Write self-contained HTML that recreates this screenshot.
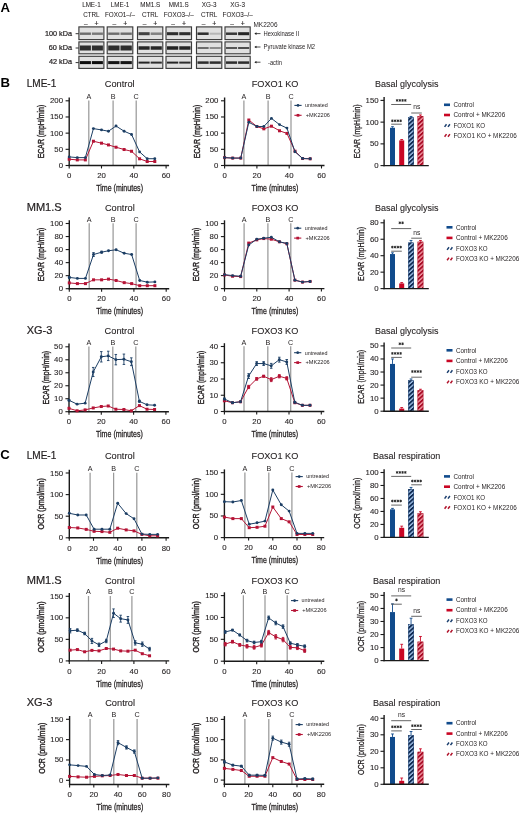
<!DOCTYPE html>
<html><head><meta charset="utf-8"><title>Figure</title>
<style>
html,body{margin:0;padding:0;background:#fff;}
body{width:520px;height:813px;overflow:hidden;font-family:"Liberation Sans",sans-serif;}
svg{display:block;will-change:transform;filter:blur(0.3px);}
</style></head><body>
<svg width="520" height="813" viewBox="0 0 520 813" font-family="Liberation Sans, sans-serif" fill="#231f20"><defs>
<filter id="blur" x="-20%" y="-60%" width="140%" height="220%"><feGaussianBlur stdDeviation="0.75"/></filter>
<pattern id="hb" patternUnits="userSpaceOnUse" width="3.2" height="3.2" patternTransform="rotate(-42)">
<rect width="3.2" height="3.2" fill="#a4c6ee"/><rect width="3.2" height="1.85" fill="#0d2850"/></pattern>
<pattern id="hr" patternUnits="userSpaceOnUse" width="3.2" height="3.2" patternTransform="rotate(-42)">
<rect width="3.2" height="3.2" fill="#f5a0aa"/><rect width="3.2" height="1.85" fill="#a80a24"/></pattern>
</defs><text x="0.4" y="11.5" font-size="13.2" font-weight="bold" fill="#000">A</text>
<text x="91.4" y="7.2" font-size="6.3" text-anchor="middle" stroke="#231f20" stroke-width="0.05">LME-1</text>
<text x="91.4" y="17" font-size="6.3" text-anchor="middle" stroke="#231f20" stroke-width="0.05">CTRL</text>
<text x="85.8" y="25.6" font-size="6.6" text-anchor="middle" stroke="#231f20" stroke-width="0.15">–</text>
<text x="96.6" y="25.6" font-size="6.9" text-anchor="middle" stroke="#231f20" stroke-width="0.15">+</text>
<rect x="78.9" y="26.9" width="25" height="12.7" fill="#e0e0e0" stroke="#3c3c3c" stroke-width="1.15"/>
<rect x="79.9" y="32.5" width="11" height="2.4" fill="rgb(108,108,108)" filter="url(#blur)"/>
<rect x="91.9" y="32.5" width="11" height="2.4" fill="rgb(119,119,119)" filter="url(#blur)"/>
<rect x="78.9" y="41.9" width="25" height="11.9" fill="#e0e0e0" stroke="#3c3c3c" stroke-width="1.15"/>
<rect x="79.9" y="45.5" width="11" height="5" fill="rgb(45,45,45)" filter="url(#blur)"/>
<rect x="91.9" y="45.5" width="11" height="5" fill="rgb(45,45,45)" filter="url(#blur)"/>
<rect x="78.9" y="56.3" width="25" height="12.1" fill="#e0e0e0" stroke="#3c3c3c" stroke-width="1.15"/>
<rect x="79.9" y="61.1" width="11" height="3" fill="rgb(14,14,14)" filter="url(#blur)"/>
<rect x="91.9" y="61.1" width="11" height="3" fill="rgb(14,14,14)" filter="url(#blur)"/>
<text x="120" y="7.2" font-size="6.3" text-anchor="middle" stroke="#231f20" stroke-width="0.05">LME-1</text>
<text x="120" y="17" font-size="6.3" text-anchor="middle" stroke="#231f20" stroke-width="0.05">FOXO1–/–</text>
<text x="114.4" y="25.6" font-size="6.6" text-anchor="middle" stroke="#231f20" stroke-width="0.15">–</text>
<text x="125.2" y="25.6" font-size="6.9" text-anchor="middle" stroke="#231f20" stroke-width="0.15">+</text>
<rect x="107.2" y="26.9" width="25.6" height="12.7" fill="#e0e0e0" stroke="#3c3c3c" stroke-width="1.15"/>
<rect x="108.2" y="32.5" width="11.3" height="2.4" fill="rgb(108,108,108)" filter="url(#blur)"/>
<rect x="120.5" y="32.5" width="11.3" height="2.4" fill="rgb(108,108,108)" filter="url(#blur)"/>
<rect x="107.2" y="41.9" width="25.6" height="11.9" fill="#e0e0e0" stroke="#3c3c3c" stroke-width="1.15"/>
<rect x="108.2" y="45.5" width="11.3" height="5" fill="rgb(45,45,45)" filter="url(#blur)"/>
<rect x="120.5" y="45.5" width="11.3" height="5" fill="rgb(45,45,45)" filter="url(#blur)"/>
<rect x="107.2" y="56.3" width="25.6" height="12.1" fill="#e0e0e0" stroke="#3c3c3c" stroke-width="1.15"/>
<rect x="108.2" y="61.1" width="11.3" height="3" fill="rgb(20,20,20)" filter="url(#blur)"/>
<rect x="120.5" y="61.1" width="11.3" height="3" fill="rgb(20,20,20)" filter="url(#blur)"/>
<text x="150.15" y="7.2" font-size="6.3" text-anchor="middle" stroke="#231f20" stroke-width="0.05">MM1.S</text>
<text x="150.15" y="17" font-size="6.3" text-anchor="middle" stroke="#231f20" stroke-width="0.05">CTRL</text>
<text x="144.55" y="25.6" font-size="6.6" text-anchor="middle" stroke="#231f20" stroke-width="0.15">–</text>
<text x="155.35" y="25.6" font-size="6.9" text-anchor="middle" stroke="#231f20" stroke-width="0.15">+</text>
<rect x="137.5" y="26.9" width="25.3" height="12.7" fill="#e0e0e0" stroke="#3c3c3c" stroke-width="1.15"/>
<rect x="138.5" y="32.2" width="11.15" height="3" fill="rgb(66,66,66)" filter="url(#blur)"/>
<rect x="150.65" y="32.45" width="11.15" height="2.5" fill="rgb(129,129,129)" filter="url(#blur)"/>
<rect x="137.5" y="41.9" width="25.3" height="11.9" fill="#e0e0e0" stroke="#3c3c3c" stroke-width="1.15"/>
<rect x="138.5" y="46.25" width="11.15" height="3.5" fill="rgb(39,39,39)" filter="url(#blur)"/>
<rect x="150.65" y="46.25" width="11.15" height="3.5" fill="rgb(39,39,39)" filter="url(#blur)"/>
<rect x="137.5" y="56.3" width="25.3" height="12.1" fill="#e0e0e0" stroke="#3c3c3c" stroke-width="1.15"/>
<rect x="138.5" y="61.6" width="11.15" height="2" fill="rgb(39,39,39)" filter="url(#blur)"/>
<rect x="150.65" y="61.6" width="11.15" height="2" fill="rgb(45,45,45)" filter="url(#blur)"/>
<text x="178.75" y="7.2" font-size="6.3" text-anchor="middle" stroke="#231f20" stroke-width="0.05">MM1.S</text>
<text x="178.75" y="17" font-size="6.3" text-anchor="middle" stroke="#231f20" stroke-width="0.05">FOXO3–/–</text>
<text x="173.15" y="25.6" font-size="6.6" text-anchor="middle" stroke="#231f20" stroke-width="0.15">–</text>
<text x="183.95" y="25.6" font-size="6.9" text-anchor="middle" stroke="#231f20" stroke-width="0.15">+</text>
<rect x="166" y="26.9" width="25.5" height="12.7" fill="#e0e0e0" stroke="#3c3c3c" stroke-width="1.15"/>
<rect x="167" y="32.2" width="11.25" height="3" fill="rgb(45,45,45)" filter="url(#blur)"/>
<rect x="179.25" y="32.2" width="11.25" height="3" fill="rgb(45,45,45)" filter="url(#blur)"/>
<rect x="166" y="41.9" width="25.5" height="11.9" fill="#e0e0e0" stroke="#3c3c3c" stroke-width="1.15"/>
<rect x="167" y="46.25" width="11.25" height="3.5" fill="rgb(35,35,35)" filter="url(#blur)"/>
<rect x="179.25" y="46.25" width="11.25" height="3.5" fill="rgb(39,39,39)" filter="url(#blur)"/>
<rect x="166" y="56.3" width="25.5" height="12.1" fill="#e0e0e0" stroke="#3c3c3c" stroke-width="1.15"/>
<rect x="167" y="61.6" width="11.25" height="2" fill="rgb(39,39,39)" filter="url(#blur)"/>
<rect x="179.25" y="61.6" width="11.25" height="2" fill="rgb(45,45,45)" filter="url(#blur)"/>
<text x="209.15" y="7.2" font-size="6.3" text-anchor="middle" stroke="#231f20" stroke-width="0.05">XG-3</text>
<text x="209.15" y="17" font-size="6.3" text-anchor="middle" stroke="#231f20" stroke-width="0.05">CTRL</text>
<text x="203.55" y="25.6" font-size="6.6" text-anchor="middle" stroke="#231f20" stroke-width="0.15">–</text>
<text x="214.35" y="25.6" font-size="6.9" text-anchor="middle" stroke="#231f20" stroke-width="0.15">+</text>
<rect x="196.5" y="26.9" width="25.3" height="12.7" fill="#e0e0e0" stroke="#3c3c3c" stroke-width="1.15"/>
<rect x="197.5" y="32.45" width="11.15" height="2.5" fill="rgb(45,45,45)" filter="url(#blur)"/>
<rect x="209.65" y="32.7" width="11.15" height="2" fill="rgb(182,182,182)" filter="url(#blur)"/>
<rect x="196.5" y="41.9" width="25.3" height="11.9" fill="#e0e0e0" stroke="#3c3c3c" stroke-width="1.15"/>
<rect x="197.5" y="47" width="11.15" height="2" fill="rgb(108,108,108)" filter="url(#blur)"/>
<rect x="209.65" y="47" width="11.15" height="2" fill="rgb(140,140,140)" filter="url(#blur)"/>
<rect x="196.5" y="56.3" width="25.3" height="12.1" fill="#e0e0e0" stroke="#3c3c3c" stroke-width="1.15"/>
<rect x="197.5" y="61.35" width="11.15" height="2.5" fill="rgb(45,45,45)" filter="url(#blur)"/>
<rect x="209.65" y="61.35" width="11.15" height="2.5" fill="rgb(45,45,45)" filter="url(#blur)"/>
<text x="237.6" y="7.2" font-size="6.3" text-anchor="middle" stroke="#231f20" stroke-width="0.05">XG-3</text>
<text x="237.6" y="17" font-size="6.3" text-anchor="middle" stroke="#231f20" stroke-width="0.05">FOXO3–/–</text>
<text x="232" y="25.6" font-size="6.6" text-anchor="middle" stroke="#231f20" stroke-width="0.15">–</text>
<text x="242.8" y="25.6" font-size="6.9" text-anchor="middle" stroke="#231f20" stroke-width="0.15">+</text>
<rect x="225" y="26.9" width="25.2" height="12.7" fill="#e0e0e0" stroke="#3c3c3c" stroke-width="1.15"/>
<rect x="226" y="32.45" width="11.1" height="2.5" fill="rgb(56,56,56)" filter="url(#blur)"/>
<rect x="238.1" y="32.2" width="11.1" height="3" fill="rgb(39,39,39)" filter="url(#blur)"/>
<rect x="225" y="41.9" width="25.2" height="11.9" fill="#e0e0e0" stroke="#3c3c3c" stroke-width="1.15"/>
<rect x="226" y="47" width="11.1" height="2" fill="rgb(87,87,87)" filter="url(#blur)"/>
<rect x="238.1" y="47" width="11.1" height="2" fill="rgb(77,77,77)" filter="url(#blur)"/>
<rect x="225" y="56.3" width="25.2" height="12.1" fill="#e0e0e0" stroke="#3c3c3c" stroke-width="1.15"/>
<rect x="226" y="61.35" width="11.1" height="2.5" fill="rgb(45,45,45)" filter="url(#blur)"/>
<rect x="238.1" y="61.35" width="11.1" height="2.5" fill="rgb(45,45,45)" filter="url(#blur)"/>
<text x="253.5" y="27" font-size="6.5" textLength="24" lengthAdjust="spacingAndGlyphs">MK2206</text>
<text x="72" y="35.7" font-size="6.4" text-anchor="end" textLength="27" lengthAdjust="spacingAndGlyphs" stroke="#231f20" stroke-width="0.2">100 kDa</text>
<text x="72" y="49.9" font-size="6.4" text-anchor="end" textLength="23.2" lengthAdjust="spacingAndGlyphs" stroke="#231f20" stroke-width="0.2">60 kDa</text>
<text x="72" y="64.3" font-size="6.4" text-anchor="end" textLength="23" lengthAdjust="spacingAndGlyphs" stroke="#231f20" stroke-width="0.2">42 kDa</text>
<line x1="75.6" y1="33.7" x2="78.8" y2="33.7" stroke="#333" stroke-width="1"/>
<line x1="75.6" y1="48" x2="78.8" y2="48" stroke="#333" stroke-width="1"/>
<line x1="75.6" y1="62.6" x2="78.8" y2="62.6" stroke="#333" stroke-width="1"/>
<line x1="255" y1="33.6" x2="260.5" y2="33.6" stroke="#222" stroke-width="0.8"/>
<path d="M254.3 33.6 l2.2 -1.3 v2.6z" fill="#222"/>
<text x="263.6" y="36" font-size="6.8" textLength="35.5" lengthAdjust="spacingAndGlyphs">Hexokinase II</text>
<line x1="255" y1="47" x2="260.5" y2="47" stroke="#222" stroke-width="0.8"/>
<path d="M254.3 47 l2.2 -1.3 v2.6z" fill="#222"/>
<text x="263.6" y="49.4" font-size="6.8" textLength="51.5" lengthAdjust="spacingAndGlyphs">Pyruvate kinase M2</text>
<line x1="255" y1="62.2" x2="260.5" y2="62.2" stroke="#222" stroke-width="0.8"/>
<path d="M254.3 62.2 l2.2 -1.3 v2.6z" fill="#222"/>
<text x="268" y="64.6" font-size="6.8" textLength="14" lengthAdjust="spacingAndGlyphs">-actin</text>
<text x="0.5" y="87" font-size="13.2" font-weight="bold" fill="#000">B</text>
<text x="0.3" y="459" font-size="13.2" font-weight="bold" fill="#000">C</text>
<text x="26.7" y="86.7" font-size="10.2" textLength="29.6" lengthAdjust="spacingAndGlyphs" stroke="#231f20" stroke-width="0.2">LME-1</text>
<text x="26.7" y="211.2" font-size="10.2" textLength="35" lengthAdjust="spacingAndGlyphs" stroke="#231f20" stroke-width="0.2">MM1.S</text>
<text x="26.7" y="334.2" font-size="10.2" textLength="25.6" lengthAdjust="spacingAndGlyphs" stroke="#231f20" stroke-width="0.2">XG-3</text>
<text x="26.7" y="459.4" font-size="10.2" textLength="29.6" lengthAdjust="spacingAndGlyphs" stroke="#231f20" stroke-width="0.2">LME-1</text>
<text x="26.7" y="583.6" font-size="10.2" textLength="35" lengthAdjust="spacingAndGlyphs" stroke="#231f20" stroke-width="0.2">MM1.S</text>
<text x="26.7" y="706.4" font-size="10.2" textLength="25.6" lengthAdjust="spacingAndGlyphs" stroke="#231f20" stroke-width="0.2">XG-3</text>
<line x1="88.8" y1="100.5" x2="88.8" y2="165.5" stroke="#9a9a9a" stroke-width="1.25"/>
<text x="88.8" y="98.8" font-size="7.2" text-anchor="middle">A</text>
<line x1="113.1" y1="100.5" x2="113.1" y2="165.5" stroke="#9a9a9a" stroke-width="1.25"/>
<text x="113.1" y="98.8" font-size="7.2" text-anchor="middle">B</text>
<line x1="136.2" y1="100.5" x2="136.2" y2="165.5" stroke="#9a9a9a" stroke-width="1.25"/>
<text x="136.2" y="98.8" font-size="7.2" text-anchor="middle">C</text>
<line x1="69.2" y1="97.5" x2="69.2" y2="166.1" stroke="#1a1a1a" stroke-width="1.4"/>
<line x1="68.5" y1="165.5" x2="169.1" y2="165.5" stroke="#1a1a1a" stroke-width="1.4"/>
<line x1="65.6" y1="165.5" x2="69.2" y2="165.5" stroke="#1a1a1a" stroke-width="1.1"/>
<text x="63" y="168" font-size="7.4" text-anchor="end" textLength="4.35" lengthAdjust="spacingAndGlyphs" stroke="#231f20" stroke-width="0.1">0</text>
<line x1="65.6" y1="149.32" x2="69.2" y2="149.32" stroke="#1a1a1a" stroke-width="1.1"/>
<text x="63" y="151.82" font-size="7.4" text-anchor="end" textLength="8.7" lengthAdjust="spacingAndGlyphs" stroke="#231f20" stroke-width="0.1">50</text>
<line x1="65.6" y1="133.15" x2="69.2" y2="133.15" stroke="#1a1a1a" stroke-width="1.1"/>
<text x="63" y="135.65" font-size="7.4" text-anchor="end" textLength="13.05" lengthAdjust="spacingAndGlyphs" stroke="#231f20" stroke-width="0.1">100</text>
<line x1="65.6" y1="116.97" x2="69.2" y2="116.97" stroke="#1a1a1a" stroke-width="1.1"/>
<text x="63" y="119.47" font-size="7.4" text-anchor="end" textLength="13.05" lengthAdjust="spacingAndGlyphs" stroke="#231f20" stroke-width="0.1">150</text>
<line x1="65.6" y1="100.8" x2="69.2" y2="100.8" stroke="#1a1a1a" stroke-width="1.1"/>
<text x="63" y="103.3" font-size="7.4" text-anchor="end" textLength="13.05" lengthAdjust="spacingAndGlyphs" stroke="#231f20" stroke-width="0.1">200</text>
<line x1="69.2" y1="165.5" x2="69.2" y2="168.5" stroke="#1a1a1a" stroke-width="1.1"/>
<text x="69.2" y="178.2" font-size="7.4" text-anchor="middle" textLength="4.35" lengthAdjust="spacingAndGlyphs" stroke="#231f20" stroke-width="0.1">0</text>
<line x1="101.5" y1="165.5" x2="101.5" y2="168.5" stroke="#1a1a1a" stroke-width="1.1"/>
<text x="101.5" y="178.2" font-size="7.4" text-anchor="middle" textLength="8.7" lengthAdjust="spacingAndGlyphs" stroke="#231f20" stroke-width="0.1">20</text>
<line x1="133.8" y1="165.5" x2="133.8" y2="168.5" stroke="#1a1a1a" stroke-width="1.1"/>
<text x="133.8" y="178.2" font-size="7.4" text-anchor="middle" textLength="8.7" lengthAdjust="spacingAndGlyphs" stroke="#231f20" stroke-width="0.1">40</text>
<line x1="166.1" y1="165.5" x2="166.1" y2="168.5" stroke="#1a1a1a" stroke-width="1.1"/>
<text x="166.1" y="178.2" font-size="7.4" text-anchor="middle" textLength="8.7" lengthAdjust="spacingAndGlyphs" stroke="#231f20" stroke-width="0.1">60</text>
<text x="119.6" y="191.2" font-size="9.3" text-anchor="middle" textLength="46.8" lengthAdjust="spacingAndGlyphs" stroke="#231f20" stroke-width="0.3">Time (minutes)</text>
<text transform="translate(44.1 131.55) rotate(-90)" font-size="9.6" text-anchor="middle" textLength="53.6" lengthAdjust="spacingAndGlyphs" stroke="#231f20" stroke-width="0.4">ECAR (mpH/min)</text>
<text x="119.7" y="87.2" font-size="9.6" text-anchor="middle" textLength="29.8" lengthAdjust="spacingAndGlyphs" stroke="#231f20" stroke-width="0.1">Control</text>
<polyline points="69.2,159.22 77.28,159.9 85.35,159.9 93.43,141.24 101.5,143.18 108.44,144.93 116.03,147.22 124.11,149.52 131.54,151.27 139.61,158.8 147.2,161.52 154.8,161.52" fill="none" stroke="#b51335" stroke-width="1.0" stroke-linejoin="round"/>
<rect x="67.7" y="157.72" width="3" height="3" fill="#b51335"/>
<rect x="75.78" y="158.4" width="3" height="3" fill="#b51335"/>
<rect x="83.85" y="158.4" width="3" height="3" fill="#b51335"/>
<rect x="91.93" y="139.74" width="3" height="3" fill="#b51335"/>
<rect x="100" y="141.68" width="3" height="3" fill="#b51335"/>
<rect x="106.94" y="143.43" width="3" height="3" fill="#b51335"/>
<rect x="114.53" y="145.72" width="3" height="3" fill="#b51335"/>
<rect x="122.61" y="148.02" width="3" height="3" fill="#b51335"/>
<rect x="130.04" y="149.77" width="3" height="3" fill="#b51335"/>
<rect x="138.11" y="157.3" width="3" height="3" fill="#b51335"/>
<rect x="145.7" y="160.02" width="3" height="3" fill="#b51335"/>
<rect x="153.3" y="160.02" width="3" height="3" fill="#b51335"/>
<polyline points="69.2,156.89 77.28,157.61 85.35,157.61 93.43,128.62 101.5,129.91 108.44,131.21 116.03,126.03 124.11,131.21 131.54,134.44 139.61,151.91 147.2,158.71 154.8,158.71" fill="none" stroke="#1c3e64" stroke-width="1.0" stroke-linejoin="round"/>
<circle cx="69.2" cy="156.89" r="1.45" fill="#1c3e64"/>
<circle cx="77.28" cy="157.61" r="1.45" fill="#1c3e64"/>
<circle cx="85.35" cy="157.61" r="1.45" fill="#1c3e64"/>
<circle cx="93.43" cy="128.62" r="1.45" fill="#1c3e64"/>
<circle cx="101.5" cy="129.91" r="1.45" fill="#1c3e64"/>
<circle cx="108.44" cy="131.21" r="1.45" fill="#1c3e64"/>
<circle cx="116.03" cy="126.03" r="1.45" fill="#1c3e64"/>
<circle cx="124.11" cy="131.21" r="1.45" fill="#1c3e64"/>
<circle cx="131.54" cy="134.44" r="1.45" fill="#1c3e64"/>
<circle cx="139.61" cy="151.91" r="1.45" fill="#1c3e64"/>
<circle cx="147.2" cy="158.71" r="1.45" fill="#1c3e64"/>
<circle cx="154.8" cy="158.71" r="1.45" fill="#1c3e64"/>
<line x1="243.9" y1="100.5" x2="243.9" y2="165.5" stroke="#9a9a9a" stroke-width="1.25"/>
<text x="243.9" y="98.8" font-size="7.2" text-anchor="middle">A</text>
<line x1="268.1" y1="100.5" x2="268.1" y2="165.5" stroke="#9a9a9a" stroke-width="1.25"/>
<text x="268.1" y="98.8" font-size="7.2" text-anchor="middle">B</text>
<line x1="291" y1="100.5" x2="291" y2="165.5" stroke="#9a9a9a" stroke-width="1.25"/>
<text x="291" y="98.8" font-size="7.2" text-anchor="middle">C</text>
<line x1="224.6" y1="97.5" x2="224.6" y2="166.1" stroke="#1a1a1a" stroke-width="1.4"/>
<line x1="223.9" y1="165.5" x2="324.5" y2="165.5" stroke="#1a1a1a" stroke-width="1.4"/>
<line x1="221" y1="165.5" x2="224.6" y2="165.5" stroke="#1a1a1a" stroke-width="1.1"/>
<text x="218.4" y="168" font-size="7.4" text-anchor="end" textLength="4.35" lengthAdjust="spacingAndGlyphs" stroke="#231f20" stroke-width="0.1">0</text>
<line x1="221" y1="149.32" x2="224.6" y2="149.32" stroke="#1a1a1a" stroke-width="1.1"/>
<text x="218.4" y="151.82" font-size="7.4" text-anchor="end" textLength="8.7" lengthAdjust="spacingAndGlyphs" stroke="#231f20" stroke-width="0.1">50</text>
<line x1="221" y1="133.15" x2="224.6" y2="133.15" stroke="#1a1a1a" stroke-width="1.1"/>
<text x="218.4" y="135.65" font-size="7.4" text-anchor="end" textLength="13.05" lengthAdjust="spacingAndGlyphs" stroke="#231f20" stroke-width="0.1">100</text>
<line x1="221" y1="116.97" x2="224.6" y2="116.97" stroke="#1a1a1a" stroke-width="1.1"/>
<text x="218.4" y="119.47" font-size="7.4" text-anchor="end" textLength="13.05" lengthAdjust="spacingAndGlyphs" stroke="#231f20" stroke-width="0.1">150</text>
<line x1="221" y1="100.8" x2="224.6" y2="100.8" stroke="#1a1a1a" stroke-width="1.1"/>
<text x="218.4" y="103.3" font-size="7.4" text-anchor="end" textLength="13.05" lengthAdjust="spacingAndGlyphs" stroke="#231f20" stroke-width="0.1">200</text>
<line x1="224.6" y1="165.5" x2="224.6" y2="168.5" stroke="#1a1a1a" stroke-width="1.1"/>
<text x="224.6" y="178.2" font-size="7.4" text-anchor="middle" textLength="4.35" lengthAdjust="spacingAndGlyphs" stroke="#231f20" stroke-width="0.1">0</text>
<line x1="256.9" y1="165.5" x2="256.9" y2="168.5" stroke="#1a1a1a" stroke-width="1.1"/>
<text x="256.9" y="178.2" font-size="7.4" text-anchor="middle" textLength="8.7" lengthAdjust="spacingAndGlyphs" stroke="#231f20" stroke-width="0.1">20</text>
<line x1="289.2" y1="165.5" x2="289.2" y2="168.5" stroke="#1a1a1a" stroke-width="1.1"/>
<text x="289.2" y="178.2" font-size="7.4" text-anchor="middle" textLength="8.7" lengthAdjust="spacingAndGlyphs" stroke="#231f20" stroke-width="0.1">40</text>
<line x1="321.5" y1="165.5" x2="321.5" y2="168.5" stroke="#1a1a1a" stroke-width="1.1"/>
<text x="321.5" y="178.2" font-size="7.4" text-anchor="middle" textLength="8.7" lengthAdjust="spacingAndGlyphs" stroke="#231f20" stroke-width="0.1">60</text>
<text x="275" y="191.2" font-size="9.3" text-anchor="middle" textLength="46.8" lengthAdjust="spacingAndGlyphs" stroke="#231f20" stroke-width="0.3">Time (minutes)</text>
<text transform="translate(199.5 131.55) rotate(-90)" font-size="9.6" text-anchor="middle" textLength="53.6" lengthAdjust="spacingAndGlyphs" stroke="#231f20" stroke-width="0.4">ECAR (mpH/min)</text>
<text x="275.1" y="87.2" font-size="9.6" text-anchor="middle" textLength="46.7" lengthAdjust="spacingAndGlyphs" stroke="#231f20" stroke-width="0.1">FOXO1 KO</text>
<polyline points="224.6,157.61 232.67,158.09 240.75,158.09 248.82,120.02 256.9,126.49 263.84,128.82 271.44,126.19 279.51,130.79 286.94,133.41 295.01,151.2 302.6,158.51 310.19,158.8" fill="none" stroke="#b51335" stroke-width="1.0" stroke-linejoin="round"/>
<rect x="223.1" y="156.11" width="3" height="3" fill="#b51335"/>
<rect x="231.17" y="156.59" width="3" height="3" fill="#b51335"/>
<rect x="239.25" y="156.59" width="3" height="3" fill="#b51335"/>
<rect x="247.32" y="118.52" width="3" height="3" fill="#b51335"/>
<rect x="255.4" y="124.99" width="3" height="3" fill="#b51335"/>
<rect x="262.34" y="127.32" width="3" height="3" fill="#b51335"/>
<rect x="269.94" y="124.69" width="3" height="3" fill="#b51335"/>
<rect x="278.01" y="129.29" width="3" height="3" fill="#b51335"/>
<rect x="285.44" y="131.91" width="3" height="3" fill="#b51335"/>
<rect x="293.51" y="149.7" width="3" height="3" fill="#b51335"/>
<rect x="301.1" y="157.01" width="3" height="3" fill="#b51335"/>
<rect x="308.69" y="157.3" width="3" height="3" fill="#b51335"/>
<polyline points="224.6,157.61 232.67,158.09 240.75,158.09 248.82,122.28 256.9,126.49 263.84,126.49 271.44,118.4 279.51,124.61 286.94,128.1 295.01,151.82 302.6,158.51 310.19,158.8" fill="none" stroke="#1c3e64" stroke-width="1.0" stroke-linejoin="round"/>
<circle cx="224.6" cy="157.61" r="1.45" fill="#1c3e64"/>
<circle cx="232.67" cy="158.09" r="1.45" fill="#1c3e64"/>
<circle cx="240.75" cy="158.09" r="1.45" fill="#1c3e64"/>
<circle cx="248.82" cy="122.28" r="1.45" fill="#1c3e64"/>
<circle cx="256.9" cy="126.49" r="1.45" fill="#1c3e64"/>
<circle cx="263.84" cy="126.49" r="1.45" fill="#1c3e64"/>
<circle cx="271.44" cy="118.4" r="1.45" fill="#1c3e64"/>
<circle cx="279.51" cy="124.61" r="1.45" fill="#1c3e64"/>
<circle cx="286.94" cy="128.1" r="1.45" fill="#1c3e64"/>
<circle cx="295.01" cy="151.82" r="1.45" fill="#1c3e64"/>
<circle cx="302.6" cy="158.51" r="1.45" fill="#1c3e64"/>
<circle cx="310.19" cy="158.8" r="1.45" fill="#1c3e64"/>
<line x1="294.4" y1="105.4" x2="301.6" y2="105.4" stroke="#1c3e64" stroke-width="1.1"/>
<circle cx="298" cy="105.4" r="1.35" fill="#1c3e64"/>
<text x="305" y="107.2" font-size="5.2" textLength="22.8" lengthAdjust="spacingAndGlyphs">untreated</text>
<line x1="294.4" y1="115.3" x2="301.6" y2="115.3" stroke="#b51335" stroke-width="1.1"/>
<rect x="296.65" y="113.95" width="2.7" height="2.7" fill="#b51335"/>
<text x="305.7" y="117.1" font-size="5.2" textLength="24.3" lengthAdjust="spacingAndGlyphs">+MK2206</text>
<line x1="392.5" y1="126.7" x2="392.5" y2="127.78" stroke="#114b8c" stroke-width="0.9"/>
<line x1="391.1" y1="126.7" x2="393.9" y2="126.7" stroke="#114b8c" stroke-width="0.9"/>
<rect x="390" y="127.78" width="5" height="37.82" fill="#114b8c"/>
<line x1="401.7" y1="139.52" x2="401.7" y2="140.39" stroke="#c90624" stroke-width="0.9"/>
<line x1="400.3" y1="139.52" x2="403.1" y2="139.52" stroke="#c90624" stroke-width="0.9"/>
<rect x="399.2" y="140.39" width="5" height="25.21" fill="#c90624"/>
<line x1="411.05" y1="116.48" x2="411.05" y2="117.35" stroke="#114b8c" stroke-width="0.9"/>
<line x1="409.65" y1="116.48" x2="412.45" y2="116.48" stroke="#114b8c" stroke-width="0.9"/>
<rect x="408.2" y="117.35" width="5.7" height="48.25" fill="url(#hb)"/>
<rect x="408.45" y="117.6" width="5.2" height="47.75" fill="none" stroke="#1b3f6e" stroke-width="0.5"/>
<line x1="420.45" y1="114.96" x2="420.45" y2="116.05" stroke="#c90624" stroke-width="0.9"/>
<line x1="419.05" y1="114.96" x2="421.85" y2="114.96" stroke="#c90624" stroke-width="0.9"/>
<rect x="417.6" y="116.05" width="5.7" height="49.55" fill="url(#hr)"/>
<rect x="417.85" y="116.3" width="5.2" height="49.05" fill="none" stroke="#b0122a" stroke-width="0.5"/>
<line x1="384.1" y1="97.1" x2="384.1" y2="166.2" stroke="#1a1a1a" stroke-width="1.4"/>
<line x1="383.4" y1="165.6" x2="428.8" y2="165.6" stroke="#1a1a1a" stroke-width="1.4"/>
<line x1="380.5" y1="165.6" x2="384.1" y2="165.6" stroke="#1a1a1a" stroke-width="1.1"/>
<text x="378.6" y="168.1" font-size="7.4" text-anchor="end" textLength="4.35" lengthAdjust="spacingAndGlyphs" stroke="#231f20" stroke-width="0.1">0</text>
<line x1="380.5" y1="143.87" x2="384.1" y2="143.87" stroke="#1a1a1a" stroke-width="1.1"/>
<text x="378.6" y="146.37" font-size="7.4" text-anchor="end" textLength="8.7" lengthAdjust="spacingAndGlyphs" stroke="#231f20" stroke-width="0.1">50</text>
<line x1="380.5" y1="122.13" x2="384.1" y2="122.13" stroke="#1a1a1a" stroke-width="1.1"/>
<text x="378.6" y="124.63" font-size="7.4" text-anchor="end" textLength="13.05" lengthAdjust="spacingAndGlyphs" stroke="#231f20" stroke-width="0.1">100</text>
<line x1="380.5" y1="100.4" x2="384.1" y2="100.4" stroke="#1a1a1a" stroke-width="1.1"/>
<text x="378.6" y="102.9" font-size="7.4" text-anchor="end" textLength="13.05" lengthAdjust="spacingAndGlyphs" stroke="#231f20" stroke-width="0.1">150</text>
<text transform="translate(360.2 131.3) rotate(-90)" font-size="9.8" text-anchor="middle" textLength="54" lengthAdjust="spacingAndGlyphs" stroke="#231f20" stroke-width="0.3">ECAR (mpH/min)</text>
<text x="406.7" y="87.3" font-size="9.3" text-anchor="middle" textLength="63.4" lengthAdjust="spacingAndGlyphs" stroke="#231f20" stroke-width="0.1">Basal glycolysis</text>
<line x1="391.2" y1="104.5" x2="411.2" y2="104.5" stroke="#555" stroke-width="0.9"/>
<path d="M397.07 99.1L397.07 101.7M395.95 99.75L398.2 101.05M395.95 101.05L398.2 99.75" stroke="#2a2a2a" stroke-width="0.95"/>
<path d="M399.82 99.1L399.82 101.7M398.7 99.75L400.95 101.05M398.7 101.05L400.95 99.75" stroke="#2a2a2a" stroke-width="0.95"/>
<path d="M402.57 99.1L402.57 101.7M401.45 99.75L403.7 101.05M401.45 101.05L403.7 99.75" stroke="#2a2a2a" stroke-width="0.95"/>
<path d="M405.32 99.1L405.32 101.7M404.2 99.75L406.45 101.05M404.2 101.05L406.45 99.75" stroke="#2a2a2a" stroke-width="0.95"/>
<line x1="391.2" y1="124.2" x2="401.8" y2="124.2" stroke="#555" stroke-width="0.9"/>
<path d="M392.38 119.5L392.38 122.1M391.25 120.15L393.5 121.45M391.25 121.45L393.5 120.15" stroke="#2a2a2a" stroke-width="0.95"/>
<path d="M395.12 119.5L395.12 122.1M394 120.15L396.25 121.45M394 121.45L396.25 120.15" stroke="#2a2a2a" stroke-width="0.95"/>
<path d="M397.88 119.5L397.88 122.1M396.75 120.15L399 121.45M396.75 121.45L399 120.15" stroke="#2a2a2a" stroke-width="0.95"/>
<path d="M400.62 119.5L400.62 122.1M399.5 120.15L401.75 121.45M399.5 121.45L401.75 120.15" stroke="#2a2a2a" stroke-width="0.95"/>
<line x1="411.2" y1="113" x2="421.8" y2="113" stroke="#555" stroke-width="0.9"/>
<text x="416.8" y="109.3" font-size="6.7" text-anchor="middle">ns</text>
<rect x="444" y="103.5" width="6" height="2.6" fill="#114b8c"/>
<text x="453.5" y="107" font-size="6.3" >Control</text>
<rect x="444" y="113.7" width="6" height="2.6" fill="#c90624"/>
<text x="453.5" y="117.2" font-size="6.3" textLength="51.7" lengthAdjust="spacingAndGlyphs">Control + MK2206</text>
<path d="M444.6 126.9 l1.9 -2.6 M448 126.9 l1.9 -2.6" stroke="#1b3f6e" stroke-width="1.5"/>
<text x="453.5" y="127.8" font-size="6.3" textLength="31.6" lengthAdjust="spacingAndGlyphs">FOXO1 KO</text>
<path d="M444.6 136.7 l1.9 -2.6 M448 136.7 l1.9 -2.6" stroke="#b0122a" stroke-width="1.5"/>
<text x="453.5" y="137.6" font-size="6.3" textLength="63.2" lengthAdjust="spacingAndGlyphs">FOXO1 KO + MK2206</text>
<line x1="89.2" y1="223.2" x2="89.2" y2="288.7" stroke="#9a9a9a" stroke-width="1.25"/>
<text x="89.2" y="221.5" font-size="7.2" text-anchor="middle">A</text>
<line x1="113.1" y1="223.2" x2="113.1" y2="288.7" stroke="#9a9a9a" stroke-width="1.25"/>
<text x="113.1" y="221.5" font-size="7.2" text-anchor="middle">B</text>
<line x1="136.1" y1="223.2" x2="136.1" y2="288.7" stroke="#9a9a9a" stroke-width="1.25"/>
<text x="136.1" y="221.5" font-size="7.2" text-anchor="middle">C</text>
<line x1="69.3" y1="220.2" x2="69.3" y2="289.3" stroke="#1a1a1a" stroke-width="1.4"/>
<line x1="68.6" y1="288.7" x2="169.2" y2="288.7" stroke="#1a1a1a" stroke-width="1.4"/>
<line x1="65.7" y1="288.7" x2="69.3" y2="288.7" stroke="#1a1a1a" stroke-width="1.1"/>
<text x="63.1" y="291.2" font-size="7.4" text-anchor="end" textLength="4.35" lengthAdjust="spacingAndGlyphs" stroke="#231f20" stroke-width="0.1">0</text>
<line x1="65.7" y1="275.66" x2="69.3" y2="275.66" stroke="#1a1a1a" stroke-width="1.1"/>
<text x="63.1" y="278.16" font-size="7.4" text-anchor="end" textLength="8.7" lengthAdjust="spacingAndGlyphs" stroke="#231f20" stroke-width="0.1">20</text>
<line x1="65.7" y1="262.62" x2="69.3" y2="262.62" stroke="#1a1a1a" stroke-width="1.1"/>
<text x="63.1" y="265.12" font-size="7.4" text-anchor="end" textLength="8.7" lengthAdjust="spacingAndGlyphs" stroke="#231f20" stroke-width="0.1">40</text>
<line x1="65.7" y1="249.58" x2="69.3" y2="249.58" stroke="#1a1a1a" stroke-width="1.1"/>
<text x="63.1" y="252.08" font-size="7.4" text-anchor="end" textLength="8.7" lengthAdjust="spacingAndGlyphs" stroke="#231f20" stroke-width="0.1">60</text>
<line x1="65.7" y1="236.54" x2="69.3" y2="236.54" stroke="#1a1a1a" stroke-width="1.1"/>
<text x="63.1" y="239.04" font-size="7.4" text-anchor="end" textLength="8.7" lengthAdjust="spacingAndGlyphs" stroke="#231f20" stroke-width="0.1">80</text>
<line x1="65.7" y1="223.5" x2="69.3" y2="223.5" stroke="#1a1a1a" stroke-width="1.1"/>
<text x="63.1" y="226" font-size="7.4" text-anchor="end" textLength="13.05" lengthAdjust="spacingAndGlyphs" stroke="#231f20" stroke-width="0.1">100</text>
<line x1="69.3" y1="288.7" x2="69.3" y2="291.7" stroke="#1a1a1a" stroke-width="1.1"/>
<text x="69.3" y="301.4" font-size="7.4" text-anchor="middle" textLength="4.35" lengthAdjust="spacingAndGlyphs" stroke="#231f20" stroke-width="0.1">0</text>
<line x1="101.6" y1="288.7" x2="101.6" y2="291.7" stroke="#1a1a1a" stroke-width="1.1"/>
<text x="101.6" y="301.4" font-size="7.4" text-anchor="middle" textLength="8.7" lengthAdjust="spacingAndGlyphs" stroke="#231f20" stroke-width="0.1">20</text>
<line x1="133.9" y1="288.7" x2="133.9" y2="291.7" stroke="#1a1a1a" stroke-width="1.1"/>
<text x="133.9" y="301.4" font-size="7.4" text-anchor="middle" textLength="8.7" lengthAdjust="spacingAndGlyphs" stroke="#231f20" stroke-width="0.1">40</text>
<line x1="166.2" y1="288.7" x2="166.2" y2="291.7" stroke="#1a1a1a" stroke-width="1.1"/>
<text x="166.2" y="301.4" font-size="7.4" text-anchor="middle" textLength="8.7" lengthAdjust="spacingAndGlyphs" stroke="#231f20" stroke-width="0.1">60</text>
<text x="119.7" y="314.4" font-size="9.3" text-anchor="middle" textLength="46.8" lengthAdjust="spacingAndGlyphs" stroke="#231f20" stroke-width="0.3">Time (minutes)</text>
<text transform="translate(44.2 254.5) rotate(-90)" font-size="9.6" text-anchor="middle" textLength="53.6" lengthAdjust="spacingAndGlyphs" stroke="#231f20" stroke-width="0.4">ECAR (mpH/min)</text>
<text x="119.8" y="211.2" font-size="9.6" text-anchor="middle" textLength="29.8" lengthAdjust="spacingAndGlyphs" stroke="#231f20" stroke-width="0.1">Control</text>
<polyline points="69.3,282.9 77.38,283.61 85.45,283.61 93.53,279.83 101.6,279.83 108.54,279.12 116.13,280.48 124.21,282.64 131.64,283.61 139.71,285.7 147.3,285.7 154.89,285.7" fill="none" stroke="#b51335" stroke-width="1.0" stroke-linejoin="round"/>
<rect x="67.8" y="281.4" width="3" height="3" fill="#b51335"/>
<rect x="75.88" y="282.11" width="3" height="3" fill="#b51335"/>
<rect x="83.95" y="282.11" width="3" height="3" fill="#b51335"/>
<rect x="92.03" y="278.33" width="3" height="3" fill="#b51335"/>
<rect x="100.1" y="278.33" width="3" height="3" fill="#b51335"/>
<rect x="107.04" y="277.62" width="3" height="3" fill="#b51335"/>
<rect x="114.63" y="278.98" width="3" height="3" fill="#b51335"/>
<rect x="122.71" y="281.14" width="3" height="3" fill="#b51335"/>
<rect x="130.14" y="282.11" width="3" height="3" fill="#b51335"/>
<rect x="138.21" y="284.2" width="3" height="3" fill="#b51335"/>
<rect x="145.8" y="284.2" width="3" height="3" fill="#b51335"/>
<rect x="153.39" y="284.2" width="3" height="3" fill="#b51335"/>
<polyline points="69.3,277.42 77.38,278.4 85.45,278.4 93.53,254.54 101.6,252.19 108.54,250.75 116.13,249.78 124.21,253.23 131.64,254.54 139.71,280.48 147.3,282.18 154.89,281.92" fill="none" stroke="#1c3e64" stroke-width="1.0" stroke-linejoin="round"/>
<line x1="69.3" y1="276.44" x2="69.3" y2="278.4" stroke="#1c3e64" stroke-width="0.9"/>
<line x1="68.05" y1="276.44" x2="70.55" y2="276.44" stroke="#1c3e64" stroke-width="0.9"/>
<line x1="68.05" y1="278.4" x2="70.55" y2="278.4" stroke="#1c3e64" stroke-width="0.9"/>
<circle cx="69.3" cy="277.42" r="1.45" fill="#1c3e64"/>
<circle cx="77.38" cy="278.4" r="1.45" fill="#1c3e64"/>
<circle cx="85.45" cy="278.4" r="1.45" fill="#1c3e64"/>
<line x1="93.53" y1="252.58" x2="93.53" y2="256.49" stroke="#1c3e64" stroke-width="0.9"/>
<line x1="92.28" y1="252.58" x2="94.78" y2="252.58" stroke="#1c3e64" stroke-width="0.9"/>
<line x1="92.28" y1="256.49" x2="94.78" y2="256.49" stroke="#1c3e64" stroke-width="0.9"/>
<circle cx="93.53" cy="254.54" r="1.45" fill="#1c3e64"/>
<line x1="101.6" y1="251.21" x2="101.6" y2="253.17" stroke="#1c3e64" stroke-width="0.9"/>
<line x1="100.35" y1="251.21" x2="102.85" y2="251.21" stroke="#1c3e64" stroke-width="0.9"/>
<line x1="100.35" y1="253.17" x2="102.85" y2="253.17" stroke="#1c3e64" stroke-width="0.9"/>
<circle cx="101.6" cy="252.19" r="1.45" fill="#1c3e64"/>
<circle cx="108.54" cy="250.75" r="1.45" fill="#1c3e64"/>
<circle cx="116.13" cy="249.78" r="1.45" fill="#1c3e64"/>
<circle cx="124.21" cy="253.23" r="1.45" fill="#1c3e64"/>
<circle cx="131.64" cy="254.54" r="1.45" fill="#1c3e64"/>
<circle cx="139.71" cy="280.48" r="1.45" fill="#1c3e64"/>
<circle cx="147.3" cy="282.18" r="1.45" fill="#1c3e64"/>
<circle cx="154.89" cy="281.92" r="1.45" fill="#1c3e64"/>
<line x1="244.1" y1="223.3" x2="244.1" y2="288.6" stroke="#9a9a9a" stroke-width="1.25"/>
<text x="244.1" y="221.6" font-size="7.2" text-anchor="middle">A</text>
<line x1="267.9" y1="223.3" x2="267.9" y2="288.6" stroke="#9a9a9a" stroke-width="1.25"/>
<text x="267.9" y="221.6" font-size="7.2" text-anchor="middle">B</text>
<line x1="290.8" y1="223.3" x2="290.8" y2="288.6" stroke="#9a9a9a" stroke-width="1.25"/>
<text x="290.8" y="221.6" font-size="7.2" text-anchor="middle">C</text>
<line x1="224.5" y1="220.3" x2="224.5" y2="289.2" stroke="#1a1a1a" stroke-width="1.4"/>
<line x1="223.8" y1="288.6" x2="324.4" y2="288.6" stroke="#1a1a1a" stroke-width="1.4"/>
<line x1="220.9" y1="288.6" x2="224.5" y2="288.6" stroke="#1a1a1a" stroke-width="1.1"/>
<text x="218.3" y="291.1" font-size="7.4" text-anchor="end" textLength="4.35" lengthAdjust="spacingAndGlyphs" stroke="#231f20" stroke-width="0.1">0</text>
<line x1="220.9" y1="275.6" x2="224.5" y2="275.6" stroke="#1a1a1a" stroke-width="1.1"/>
<text x="218.3" y="278.1" font-size="7.4" text-anchor="end" textLength="8.7" lengthAdjust="spacingAndGlyphs" stroke="#231f20" stroke-width="0.1">20</text>
<line x1="220.9" y1="262.6" x2="224.5" y2="262.6" stroke="#1a1a1a" stroke-width="1.1"/>
<text x="218.3" y="265.1" font-size="7.4" text-anchor="end" textLength="8.7" lengthAdjust="spacingAndGlyphs" stroke="#231f20" stroke-width="0.1">40</text>
<line x1="220.9" y1="249.6" x2="224.5" y2="249.6" stroke="#1a1a1a" stroke-width="1.1"/>
<text x="218.3" y="252.1" font-size="7.4" text-anchor="end" textLength="8.7" lengthAdjust="spacingAndGlyphs" stroke="#231f20" stroke-width="0.1">60</text>
<line x1="220.9" y1="236.6" x2="224.5" y2="236.6" stroke="#1a1a1a" stroke-width="1.1"/>
<text x="218.3" y="239.1" font-size="7.4" text-anchor="end" textLength="8.7" lengthAdjust="spacingAndGlyphs" stroke="#231f20" stroke-width="0.1">80</text>
<line x1="220.9" y1="223.6" x2="224.5" y2="223.6" stroke="#1a1a1a" stroke-width="1.1"/>
<text x="218.3" y="226.1" font-size="7.4" text-anchor="end" textLength="13.05" lengthAdjust="spacingAndGlyphs" stroke="#231f20" stroke-width="0.1">100</text>
<line x1="224.5" y1="288.6" x2="224.5" y2="291.6" stroke="#1a1a1a" stroke-width="1.1"/>
<text x="224.5" y="301.3" font-size="7.4" text-anchor="middle" textLength="4.35" lengthAdjust="spacingAndGlyphs" stroke="#231f20" stroke-width="0.1">0</text>
<line x1="256.8" y1="288.6" x2="256.8" y2="291.6" stroke="#1a1a1a" stroke-width="1.1"/>
<text x="256.8" y="301.3" font-size="7.4" text-anchor="middle" textLength="8.7" lengthAdjust="spacingAndGlyphs" stroke="#231f20" stroke-width="0.1">20</text>
<line x1="289.1" y1="288.6" x2="289.1" y2="291.6" stroke="#1a1a1a" stroke-width="1.1"/>
<text x="289.1" y="301.3" font-size="7.4" text-anchor="middle" textLength="8.7" lengthAdjust="spacingAndGlyphs" stroke="#231f20" stroke-width="0.1">40</text>
<line x1="321.4" y1="288.6" x2="321.4" y2="291.6" stroke="#1a1a1a" stroke-width="1.1"/>
<text x="321.4" y="301.3" font-size="7.4" text-anchor="middle" textLength="8.7" lengthAdjust="spacingAndGlyphs" stroke="#231f20" stroke-width="0.1">60</text>
<text x="274.9" y="314.3" font-size="9.3" text-anchor="middle" textLength="46.8" lengthAdjust="spacingAndGlyphs" stroke="#231f20" stroke-width="0.3">Time (minutes)</text>
<text transform="translate(199.4 254.5) rotate(-90)" font-size="9.6" text-anchor="middle" textLength="53.6" lengthAdjust="spacingAndGlyphs" stroke="#231f20" stroke-width="0.4">ECAR (mpH/min)</text>
<text x="275" y="211.2" font-size="9.6" text-anchor="middle" textLength="46.7" lengthAdjust="spacingAndGlyphs" stroke="#231f20" stroke-width="0.1">FOXO3 KO</text>
<polyline points="224.5,274.95 232.57,276.25 240.65,276.58 248.72,243.1 256.8,239.85 263.74,238.55 271.33,239.2 279.41,241.8 286.84,243.75 294.91,280.15 302.5,282.1 310.1,281.45" fill="none" stroke="#b51335" stroke-width="1.0" stroke-linejoin="round"/>
<rect x="223" y="273.45" width="3" height="3" fill="#b51335"/>
<rect x="231.07" y="274.75" width="3" height="3" fill="#b51335"/>
<rect x="239.15" y="275.08" width="3" height="3" fill="#b51335"/>
<rect x="247.22" y="241.6" width="3" height="3" fill="#b51335"/>
<rect x="255.3" y="238.35" width="3" height="3" fill="#b51335"/>
<rect x="262.24" y="237.05" width="3" height="3" fill="#b51335"/>
<rect x="269.83" y="237.7" width="3" height="3" fill="#b51335"/>
<rect x="277.91" y="240.3" width="3" height="3" fill="#b51335"/>
<rect x="285.34" y="242.25" width="3" height="3" fill="#b51335"/>
<rect x="293.41" y="278.65" width="3" height="3" fill="#b51335"/>
<rect x="301" y="280.6" width="3" height="3" fill="#b51335"/>
<rect x="308.6" y="279.95" width="3" height="3" fill="#b51335"/>
<polyline points="224.5,274.62 232.57,275.6 240.65,276.25 248.72,245.05 256.8,239.2 263.74,238.22 271.33,237.25 279.41,241.8 286.84,243.43 294.91,280.15 302.5,282.1 310.1,281.45" fill="none" stroke="#1c3e64" stroke-width="1.0" stroke-linejoin="round"/>
<circle cx="224.5" cy="274.62" r="1.45" fill="#1c3e64"/>
<circle cx="232.57" cy="275.6" r="1.45" fill="#1c3e64"/>
<circle cx="240.65" cy="276.25" r="1.45" fill="#1c3e64"/>
<circle cx="248.72" cy="245.05" r="1.45" fill="#1c3e64"/>
<circle cx="256.8" cy="239.2" r="1.45" fill="#1c3e64"/>
<circle cx="263.74" cy="238.22" r="1.45" fill="#1c3e64"/>
<circle cx="271.33" cy="237.25" r="1.45" fill="#1c3e64"/>
<circle cx="279.41" cy="241.8" r="1.45" fill="#1c3e64"/>
<circle cx="286.84" cy="243.43" r="1.45" fill="#1c3e64"/>
<circle cx="294.91" cy="280.15" r="1.45" fill="#1c3e64"/>
<circle cx="302.5" cy="282.1" r="1.45" fill="#1c3e64"/>
<circle cx="310.1" cy="281.45" r="1.45" fill="#1c3e64"/>
<line x1="294.1" y1="228.2" x2="301.3" y2="228.2" stroke="#1c3e64" stroke-width="1.1"/>
<circle cx="297.7" cy="228.2" r="1.35" fill="#1c3e64"/>
<text x="304.7" y="230" font-size="5.2" textLength="22.8" lengthAdjust="spacingAndGlyphs">untreated</text>
<line x1="294.1" y1="238.1" x2="301.3" y2="238.1" stroke="#b51335" stroke-width="1.1"/>
<rect x="296.35" y="236.75" width="2.7" height="2.7" fill="#b51335"/>
<text x="305.4" y="239.9" font-size="5.2" textLength="24.3" lengthAdjust="spacingAndGlyphs">+MK2206</text>
<line x1="392.5" y1="252.82" x2="392.5" y2="254.06" stroke="#114b8c" stroke-width="0.9"/>
<line x1="391.1" y1="252.82" x2="393.9" y2="252.82" stroke="#114b8c" stroke-width="0.9"/>
<rect x="390" y="254.06" width="5" height="34.55" fill="#114b8c"/>
<line x1="401.7" y1="282.6" x2="401.7" y2="283.42" stroke="#c90624" stroke-width="0.9"/>
<line x1="400.3" y1="282.6" x2="403.1" y2="282.6" stroke="#c90624" stroke-width="0.9"/>
<rect x="399.2" y="283.42" width="5" height="5.18" fill="#c90624"/>
<line x1="411.05" y1="240.48" x2="411.05" y2="242.54" stroke="#114b8c" stroke-width="0.9"/>
<line x1="409.65" y1="240.48" x2="412.45" y2="240.48" stroke="#114b8c" stroke-width="0.9"/>
<rect x="408.2" y="242.54" width="5.7" height="46.06" fill="url(#hb)"/>
<rect x="408.45" y="242.79" width="5.2" height="45.56" fill="none" stroke="#1b3f6e" stroke-width="0.5"/>
<line x1="420.45" y1="240.48" x2="420.45" y2="241.72" stroke="#c90624" stroke-width="0.9"/>
<line x1="419.05" y1="240.48" x2="421.85" y2="240.48" stroke="#c90624" stroke-width="0.9"/>
<rect x="417.6" y="241.72" width="5.7" height="46.88" fill="url(#hr)"/>
<rect x="417.85" y="241.97" width="5.2" height="46.38" fill="none" stroke="#b0122a" stroke-width="0.5"/>
<line x1="384.1" y1="219.5" x2="384.1" y2="289.2" stroke="#1a1a1a" stroke-width="1.4"/>
<line x1="383.4" y1="288.6" x2="428.8" y2="288.6" stroke="#1a1a1a" stroke-width="1.4"/>
<line x1="380.5" y1="288.6" x2="384.1" y2="288.6" stroke="#1a1a1a" stroke-width="1.1"/>
<text x="378.6" y="291.1" font-size="7.4" text-anchor="end" textLength="4.35" lengthAdjust="spacingAndGlyphs" stroke="#231f20" stroke-width="0.1">0</text>
<line x1="380.5" y1="272.15" x2="384.1" y2="272.15" stroke="#1a1a1a" stroke-width="1.1"/>
<text x="378.6" y="274.65" font-size="7.4" text-anchor="end" textLength="8.7" lengthAdjust="spacingAndGlyphs" stroke="#231f20" stroke-width="0.1">20</text>
<line x1="380.5" y1="255.7" x2="384.1" y2="255.7" stroke="#1a1a1a" stroke-width="1.1"/>
<text x="378.6" y="258.2" font-size="7.4" text-anchor="end" textLength="8.7" lengthAdjust="spacingAndGlyphs" stroke="#231f20" stroke-width="0.1">40</text>
<line x1="380.5" y1="239.25" x2="384.1" y2="239.25" stroke="#1a1a1a" stroke-width="1.1"/>
<text x="378.6" y="241.75" font-size="7.4" text-anchor="end" textLength="8.7" lengthAdjust="spacingAndGlyphs" stroke="#231f20" stroke-width="0.1">60</text>
<line x1="380.5" y1="222.8" x2="384.1" y2="222.8" stroke="#1a1a1a" stroke-width="1.1"/>
<text x="378.6" y="225.3" font-size="7.4" text-anchor="end" textLength="8.7" lengthAdjust="spacingAndGlyphs" stroke="#231f20" stroke-width="0.1">80</text>
<text transform="translate(364.2 254) rotate(-90)" font-size="9.8" text-anchor="middle" textLength="54" lengthAdjust="spacingAndGlyphs" stroke="#231f20" stroke-width="0.3">ECAR (mpH/min)</text>
<text x="406.7" y="211.2" font-size="9.3" text-anchor="middle" textLength="63.4" lengthAdjust="spacingAndGlyphs" stroke="#231f20" stroke-width="0.1">Basal glycolysis</text>
<line x1="391.2" y1="228.6" x2="411.2" y2="228.6" stroke="#555" stroke-width="0.9"/>
<path d="M399.82 221.5L399.82 224.1M398.7 222.15L400.95 223.45M398.7 223.45L400.95 222.15" stroke="#2a2a2a" stroke-width="0.95"/>
<path d="M402.57 221.5L402.57 224.1M401.45 222.15L403.7 223.45M401.45 223.45L403.7 222.15" stroke="#2a2a2a" stroke-width="0.95"/>
<line x1="391.2" y1="251.2" x2="401.8" y2="251.2" stroke="#555" stroke-width="0.9"/>
<path d="M392.38 245.8L392.38 248.4M391.25 246.45L393.5 247.75M391.25 247.75L393.5 246.45" stroke="#2a2a2a" stroke-width="0.95"/>
<path d="M395.12 245.8L395.12 248.4M394 246.45L396.25 247.75M394 247.75L396.25 246.45" stroke="#2a2a2a" stroke-width="0.95"/>
<path d="M397.88 245.8L397.88 248.4M396.75 246.45L399 247.75M396.75 247.75L399 246.45" stroke="#2a2a2a" stroke-width="0.95"/>
<path d="M400.62 245.8L400.62 248.4M399.5 246.45L401.75 247.75M399.5 247.75L401.75 246.45" stroke="#2a2a2a" stroke-width="0.95"/>
<line x1="411.2" y1="238.2" x2="421.8" y2="238.2" stroke="#555" stroke-width="0.9"/>
<text x="416.8" y="234.5" font-size="6.7" text-anchor="middle">ns</text>
<rect x="446.5" y="226" width="6" height="2.6" fill="#114b8c"/>
<text x="456" y="229.5" font-size="6.3" >Control</text>
<rect x="446.5" y="236.6" width="6" height="2.6" fill="#c90624"/>
<text x="456" y="240.1" font-size="6.3" textLength="51.7" lengthAdjust="spacingAndGlyphs">Control + MK2206</text>
<path d="M447.1 249.9 l1.9 -2.6 M450.5 249.9 l1.9 -2.6" stroke="#1b3f6e" stroke-width="1.5"/>
<text x="456" y="250.8" font-size="6.3" textLength="31.6" lengthAdjust="spacingAndGlyphs">FOXO3 KO</text>
<path d="M447.1 260.2 l1.9 -2.6 M450.5 260.2 l1.9 -2.6" stroke="#b0122a" stroke-width="1.5"/>
<text x="456" y="261.1" font-size="6.3" textLength="63.2" lengthAdjust="spacingAndGlyphs">FOXO3 KO + MK2206</text>
<line x1="88.9" y1="346.5" x2="88.9" y2="411.7" stroke="#9a9a9a" stroke-width="1.25"/>
<text x="88.9" y="344.8" font-size="7.2" text-anchor="middle">A</text>
<line x1="112.8" y1="346.5" x2="112.8" y2="411.7" stroke="#9a9a9a" stroke-width="1.25"/>
<text x="112.8" y="344.8" font-size="7.2" text-anchor="middle">B</text>
<line x1="135.8" y1="346.5" x2="135.8" y2="411.7" stroke="#9a9a9a" stroke-width="1.25"/>
<text x="135.8" y="344.8" font-size="7.2" text-anchor="middle">C</text>
<line x1="69" y1="343.5" x2="69" y2="412.3" stroke="#1a1a1a" stroke-width="1.4"/>
<line x1="68.3" y1="411.7" x2="168.9" y2="411.7" stroke="#1a1a1a" stroke-width="1.4"/>
<line x1="65.4" y1="411.7" x2="69" y2="411.7" stroke="#1a1a1a" stroke-width="1.1"/>
<text x="62.8" y="414.2" font-size="7.4" text-anchor="end" textLength="4.35" lengthAdjust="spacingAndGlyphs" stroke="#231f20" stroke-width="0.1">0</text>
<line x1="65.4" y1="398.72" x2="69" y2="398.72" stroke="#1a1a1a" stroke-width="1.1"/>
<text x="62.8" y="401.22" font-size="7.4" text-anchor="end" textLength="8.7" lengthAdjust="spacingAndGlyphs" stroke="#231f20" stroke-width="0.1">10</text>
<line x1="65.4" y1="385.74" x2="69" y2="385.74" stroke="#1a1a1a" stroke-width="1.1"/>
<text x="62.8" y="388.24" font-size="7.4" text-anchor="end" textLength="8.7" lengthAdjust="spacingAndGlyphs" stroke="#231f20" stroke-width="0.1">20</text>
<line x1="65.4" y1="372.76" x2="69" y2="372.76" stroke="#1a1a1a" stroke-width="1.1"/>
<text x="62.8" y="375.26" font-size="7.4" text-anchor="end" textLength="8.7" lengthAdjust="spacingAndGlyphs" stroke="#231f20" stroke-width="0.1">30</text>
<line x1="65.4" y1="359.78" x2="69" y2="359.78" stroke="#1a1a1a" stroke-width="1.1"/>
<text x="62.8" y="362.28" font-size="7.4" text-anchor="end" textLength="8.7" lengthAdjust="spacingAndGlyphs" stroke="#231f20" stroke-width="0.1">40</text>
<line x1="65.4" y1="346.8" x2="69" y2="346.8" stroke="#1a1a1a" stroke-width="1.1"/>
<text x="62.8" y="349.3" font-size="7.4" text-anchor="end" textLength="8.7" lengthAdjust="spacingAndGlyphs" stroke="#231f20" stroke-width="0.1">50</text>
<line x1="69" y1="411.7" x2="69" y2="414.7" stroke="#1a1a1a" stroke-width="1.1"/>
<text x="69" y="424.4" font-size="7.4" text-anchor="middle" textLength="4.35" lengthAdjust="spacingAndGlyphs" stroke="#231f20" stroke-width="0.1">0</text>
<line x1="101.3" y1="411.7" x2="101.3" y2="414.7" stroke="#1a1a1a" stroke-width="1.1"/>
<text x="101.3" y="424.4" font-size="7.4" text-anchor="middle" textLength="8.7" lengthAdjust="spacingAndGlyphs" stroke="#231f20" stroke-width="0.1">20</text>
<line x1="133.6" y1="411.7" x2="133.6" y2="414.7" stroke="#1a1a1a" stroke-width="1.1"/>
<text x="133.6" y="424.4" font-size="7.4" text-anchor="middle" textLength="8.7" lengthAdjust="spacingAndGlyphs" stroke="#231f20" stroke-width="0.1">40</text>
<line x1="165.9" y1="411.7" x2="165.9" y2="414.7" stroke="#1a1a1a" stroke-width="1.1"/>
<text x="165.9" y="424.4" font-size="7.4" text-anchor="middle" textLength="8.7" lengthAdjust="spacingAndGlyphs" stroke="#231f20" stroke-width="0.1">60</text>
<text x="119.4" y="437.4" font-size="9.3" text-anchor="middle" textLength="46.8" lengthAdjust="spacingAndGlyphs" stroke="#231f20" stroke-width="0.3">Time (minutes)</text>
<text transform="translate(48.6 377.65) rotate(-90)" font-size="9.6" text-anchor="middle" textLength="53.6" lengthAdjust="spacingAndGlyphs" stroke="#231f20" stroke-width="0.4">ECAR (mpH/min)</text>
<text x="119.5" y="334.2" font-size="9.6" text-anchor="middle" textLength="29.8" lengthAdjust="spacingAndGlyphs" stroke="#231f20" stroke-width="0.1">Control</text>
<polyline points="69,408.33 77.08,410.79 85.15,409.88 93.22,407.94 101.3,406.51 108.24,405.99 115.84,409.23 123.91,409.49 131.34,410.79 139.41,405.6 147,409.23 154.59,409.49" fill="none" stroke="#b51335" stroke-width="1.0" stroke-linejoin="round"/>
<rect x="67.5" y="406.83" width="3" height="3" fill="#b51335"/>
<rect x="75.58" y="409.29" width="3" height="3" fill="#b51335"/>
<rect x="83.65" y="408.38" width="3" height="3" fill="#b51335"/>
<rect x="91.72" y="406.44" width="3" height="3" fill="#b51335"/>
<rect x="99.8" y="405.01" width="3" height="3" fill="#b51335"/>
<rect x="106.74" y="404.49" width="3" height="3" fill="#b51335"/>
<rect x="114.34" y="407.73" width="3" height="3" fill="#b51335"/>
<rect x="122.41" y="407.99" width="3" height="3" fill="#b51335"/>
<rect x="129.84" y="409.29" width="3" height="3" fill="#b51335"/>
<rect x="137.91" y="404.1" width="3" height="3" fill="#b51335"/>
<rect x="145.5" y="407.73" width="3" height="3" fill="#b51335"/>
<rect x="153.09" y="407.99" width="3" height="3" fill="#b51335"/>
<polyline points="69,400.28 77.08,404.17 85.15,403.13 93.22,371.98 101.3,356.79 108.24,355.89 115.84,359.65 123.91,359.26 131.34,361.73 139.41,401.32 147,404.82 154.59,405.21" fill="none" stroke="#1c3e64" stroke-width="1.0" stroke-linejoin="round"/>
<line x1="69" y1="399.5" x2="69" y2="401.06" stroke="#1c3e64" stroke-width="0.9"/>
<line x1="67.75" y1="399.5" x2="70.25" y2="399.5" stroke="#1c3e64" stroke-width="0.9"/>
<line x1="67.75" y1="401.06" x2="70.25" y2="401.06" stroke="#1c3e64" stroke-width="0.9"/>
<circle cx="69" cy="400.28" r="1.45" fill="#1c3e64"/>
<circle cx="77.08" cy="404.17" r="1.45" fill="#1c3e64"/>
<circle cx="85.15" cy="403.13" r="1.45" fill="#1c3e64"/>
<line x1="93.22" y1="367.44" x2="93.22" y2="376.52" stroke="#1c3e64" stroke-width="0.9"/>
<line x1="91.97" y1="367.44" x2="94.47" y2="367.44" stroke="#1c3e64" stroke-width="0.9"/>
<line x1="91.97" y1="376.52" x2="94.47" y2="376.52" stroke="#1c3e64" stroke-width="0.9"/>
<circle cx="93.22" cy="371.98" r="1.45" fill="#1c3e64"/>
<line x1="101.3" y1="351.6" x2="101.3" y2="361.99" stroke="#1c3e64" stroke-width="0.9"/>
<line x1="100.05" y1="351.6" x2="102.55" y2="351.6" stroke="#1c3e64" stroke-width="0.9"/>
<line x1="100.05" y1="361.99" x2="102.55" y2="361.99" stroke="#1c3e64" stroke-width="0.9"/>
<circle cx="101.3" cy="356.79" r="1.45" fill="#1c3e64"/>
<line x1="108.24" y1="351.21" x2="108.24" y2="360.56" stroke="#1c3e64" stroke-width="0.9"/>
<line x1="106.99" y1="351.21" x2="109.49" y2="351.21" stroke="#1c3e64" stroke-width="0.9"/>
<line x1="106.99" y1="360.56" x2="109.49" y2="360.56" stroke="#1c3e64" stroke-width="0.9"/>
<circle cx="108.24" cy="355.89" r="1.45" fill="#1c3e64"/>
<line x1="115.84" y1="354.46" x2="115.84" y2="364.84" stroke="#1c3e64" stroke-width="0.9"/>
<line x1="114.59" y1="354.46" x2="117.09" y2="354.46" stroke="#1c3e64" stroke-width="0.9"/>
<line x1="114.59" y1="364.84" x2="117.09" y2="364.84" stroke="#1c3e64" stroke-width="0.9"/>
<circle cx="115.84" cy="359.65" r="1.45" fill="#1c3e64"/>
<line x1="123.91" y1="354.07" x2="123.91" y2="364.45" stroke="#1c3e64" stroke-width="0.9"/>
<line x1="122.66" y1="354.07" x2="125.16" y2="354.07" stroke="#1c3e64" stroke-width="0.9"/>
<line x1="122.66" y1="364.45" x2="125.16" y2="364.45" stroke="#1c3e64" stroke-width="0.9"/>
<circle cx="123.91" cy="359.26" r="1.45" fill="#1c3e64"/>
<line x1="131.34" y1="357.83" x2="131.34" y2="365.62" stroke="#1c3e64" stroke-width="0.9"/>
<line x1="130.09" y1="357.83" x2="132.59" y2="357.83" stroke="#1c3e64" stroke-width="0.9"/>
<line x1="130.09" y1="365.62" x2="132.59" y2="365.62" stroke="#1c3e64" stroke-width="0.9"/>
<circle cx="131.34" cy="361.73" r="1.45" fill="#1c3e64"/>
<line x1="139.41" y1="400.28" x2="139.41" y2="402.35" stroke="#1c3e64" stroke-width="0.9"/>
<line x1="138.16" y1="400.28" x2="140.66" y2="400.28" stroke="#1c3e64" stroke-width="0.9"/>
<line x1="138.16" y1="402.35" x2="140.66" y2="402.35" stroke="#1c3e64" stroke-width="0.9"/>
<circle cx="139.41" cy="401.32" r="1.45" fill="#1c3e64"/>
<circle cx="147" cy="404.82" r="1.45" fill="#1c3e64"/>
<circle cx="154.59" cy="405.21" r="1.45" fill="#1c3e64"/>
<line x1="244" y1="346.2" x2="244" y2="411.5" stroke="#9a9a9a" stroke-width="1.25"/>
<text x="244" y="344.5" font-size="7.2" text-anchor="middle">A</text>
<line x1="267.8" y1="346.2" x2="267.8" y2="411.5" stroke="#9a9a9a" stroke-width="1.25"/>
<text x="267.8" y="344.5" font-size="7.2" text-anchor="middle">B</text>
<line x1="290.7" y1="346.2" x2="290.7" y2="411.5" stroke="#9a9a9a" stroke-width="1.25"/>
<text x="290.7" y="344.5" font-size="7.2" text-anchor="middle">C</text>
<line x1="224.4" y1="343.2" x2="224.4" y2="412.1" stroke="#1a1a1a" stroke-width="1.4"/>
<line x1="223.7" y1="411.5" x2="324.3" y2="411.5" stroke="#1a1a1a" stroke-width="1.4"/>
<line x1="220.8" y1="411.5" x2="224.4" y2="411.5" stroke="#1a1a1a" stroke-width="1.1"/>
<text x="218.2" y="414" font-size="7.4" text-anchor="end" textLength="4.35" lengthAdjust="spacingAndGlyphs" stroke="#231f20" stroke-width="0.1">0</text>
<line x1="220.8" y1="395.25" x2="224.4" y2="395.25" stroke="#1a1a1a" stroke-width="1.1"/>
<text x="218.2" y="397.75" font-size="7.4" text-anchor="end" textLength="8.7" lengthAdjust="spacingAndGlyphs" stroke="#231f20" stroke-width="0.1">10</text>
<line x1="220.8" y1="379" x2="224.4" y2="379" stroke="#1a1a1a" stroke-width="1.1"/>
<text x="218.2" y="381.5" font-size="7.4" text-anchor="end" textLength="8.7" lengthAdjust="spacingAndGlyphs" stroke="#231f20" stroke-width="0.1">20</text>
<line x1="220.8" y1="362.75" x2="224.4" y2="362.75" stroke="#1a1a1a" stroke-width="1.1"/>
<text x="218.2" y="365.25" font-size="7.4" text-anchor="end" textLength="8.7" lengthAdjust="spacingAndGlyphs" stroke="#231f20" stroke-width="0.1">30</text>
<line x1="220.8" y1="346.5" x2="224.4" y2="346.5" stroke="#1a1a1a" stroke-width="1.1"/>
<text x="218.2" y="349" font-size="7.4" text-anchor="end" textLength="8.7" lengthAdjust="spacingAndGlyphs" stroke="#231f20" stroke-width="0.1">40</text>
<line x1="224.4" y1="411.5" x2="224.4" y2="414.5" stroke="#1a1a1a" stroke-width="1.1"/>
<text x="224.4" y="424.2" font-size="7.4" text-anchor="middle" textLength="4.35" lengthAdjust="spacingAndGlyphs" stroke="#231f20" stroke-width="0.1">0</text>
<line x1="256.7" y1="411.5" x2="256.7" y2="414.5" stroke="#1a1a1a" stroke-width="1.1"/>
<text x="256.7" y="424.2" font-size="7.4" text-anchor="middle" textLength="8.7" lengthAdjust="spacingAndGlyphs" stroke="#231f20" stroke-width="0.1">20</text>
<line x1="289" y1="411.5" x2="289" y2="414.5" stroke="#1a1a1a" stroke-width="1.1"/>
<text x="289" y="424.2" font-size="7.4" text-anchor="middle" textLength="8.7" lengthAdjust="spacingAndGlyphs" stroke="#231f20" stroke-width="0.1">40</text>
<line x1="321.3" y1="411.5" x2="321.3" y2="414.5" stroke="#1a1a1a" stroke-width="1.1"/>
<text x="321.3" y="424.2" font-size="7.4" text-anchor="middle" textLength="8.7" lengthAdjust="spacingAndGlyphs" stroke="#231f20" stroke-width="0.1">60</text>
<text x="274.8" y="437.2" font-size="9.3" text-anchor="middle" textLength="46.8" lengthAdjust="spacingAndGlyphs" stroke="#231f20" stroke-width="0.3">Time (minutes)</text>
<text transform="translate(204 377.4) rotate(-90)" font-size="9.6" text-anchor="middle" textLength="53.6" lengthAdjust="spacingAndGlyphs" stroke="#231f20" stroke-width="0.4">ECAR (mpH/min)</text>
<text x="274.9" y="334.2" font-size="9.6" text-anchor="middle" textLength="46.7" lengthAdjust="spacingAndGlyphs" stroke="#231f20" stroke-width="0.1">FOXO3 KO</text>
<polyline points="224.4,400.77 232.47,402.73 240.55,401.75 248.62,386.96 256.7,378.84 263.64,376.24 271.24,379.65 279.31,376.24 286.74,378.35 294.81,402.73 302.4,405.32 310,405.32" fill="none" stroke="#b51335" stroke-width="1.0" stroke-linejoin="round"/>
<rect x="222.9" y="399.27" width="3" height="3" fill="#b51335"/>
<rect x="230.97" y="401.23" width="3" height="3" fill="#b51335"/>
<rect x="239.05" y="400.25" width="3" height="3" fill="#b51335"/>
<line x1="248.62" y1="385.34" x2="248.62" y2="388.59" stroke="#b51335" stroke-width="0.9"/>
<line x1="247.38" y1="385.34" x2="249.88" y2="385.34" stroke="#b51335" stroke-width="0.9"/>
<line x1="247.38" y1="388.59" x2="249.88" y2="388.59" stroke="#b51335" stroke-width="0.9"/>
<rect x="247.12" y="385.46" width="3" height="3" fill="#b51335"/>
<line x1="256.7" y1="377.54" x2="256.7" y2="380.14" stroke="#b51335" stroke-width="0.9"/>
<line x1="255.45" y1="377.54" x2="257.95" y2="377.54" stroke="#b51335" stroke-width="0.9"/>
<line x1="255.45" y1="380.14" x2="257.95" y2="380.14" stroke="#b51335" stroke-width="0.9"/>
<rect x="255.2" y="377.34" width="3" height="3" fill="#b51335"/>
<line x1="263.64" y1="375.43" x2="263.64" y2="377.05" stroke="#b51335" stroke-width="0.9"/>
<line x1="262.39" y1="375.43" x2="264.89" y2="375.43" stroke="#b51335" stroke-width="0.9"/>
<line x1="262.39" y1="377.05" x2="264.89" y2="377.05" stroke="#b51335" stroke-width="0.9"/>
<rect x="262.14" y="374.74" width="3" height="3" fill="#b51335"/>
<line x1="271.24" y1="377.7" x2="271.24" y2="381.6" stroke="#b51335" stroke-width="0.9"/>
<line x1="269.99" y1="377.7" x2="272.49" y2="377.7" stroke="#b51335" stroke-width="0.9"/>
<line x1="269.99" y1="381.6" x2="272.49" y2="381.6" stroke="#b51335" stroke-width="0.9"/>
<rect x="269.74" y="378.15" width="3" height="3" fill="#b51335"/>
<line x1="279.31" y1="374.61" x2="279.31" y2="377.86" stroke="#b51335" stroke-width="0.9"/>
<line x1="278.06" y1="374.61" x2="280.56" y2="374.61" stroke="#b51335" stroke-width="0.9"/>
<line x1="278.06" y1="377.86" x2="280.56" y2="377.86" stroke="#b51335" stroke-width="0.9"/>
<rect x="277.81" y="374.74" width="3" height="3" fill="#b51335"/>
<line x1="286.74" y1="376.73" x2="286.74" y2="379.98" stroke="#b51335" stroke-width="0.9"/>
<line x1="285.49" y1="376.73" x2="287.99" y2="376.73" stroke="#b51335" stroke-width="0.9"/>
<line x1="285.49" y1="379.98" x2="287.99" y2="379.98" stroke="#b51335" stroke-width="0.9"/>
<rect x="285.24" y="376.85" width="3" height="3" fill="#b51335"/>
<rect x="293.31" y="401.23" width="3" height="3" fill="#b51335"/>
<rect x="300.9" y="403.82" width="3" height="3" fill="#b51335"/>
<rect x="308.5" y="403.82" width="3" height="3" fill="#b51335"/>
<polyline points="224.4,398.99 232.47,402.73 240.55,401.75 248.62,376.07 256.7,363.56 263.64,363.56 271.24,365.84 279.31,359.66 286.74,361.94 294.81,402.24 302.4,405.32 310,405.32" fill="none" stroke="#1c3e64" stroke-width="1.0" stroke-linejoin="round"/>
<line x1="224.4" y1="398.18" x2="224.4" y2="399.8" stroke="#1c3e64" stroke-width="0.9"/>
<line x1="223.15" y1="398.18" x2="225.65" y2="398.18" stroke="#1c3e64" stroke-width="0.9"/>
<line x1="223.15" y1="399.8" x2="225.65" y2="399.8" stroke="#1c3e64" stroke-width="0.9"/>
<circle cx="224.4" cy="398.99" r="1.45" fill="#1c3e64"/>
<line x1="232.47" y1="401.91" x2="232.47" y2="403.54" stroke="#1c3e64" stroke-width="0.9"/>
<line x1="231.22" y1="401.91" x2="233.72" y2="401.91" stroke="#1c3e64" stroke-width="0.9"/>
<line x1="231.22" y1="403.54" x2="233.72" y2="403.54" stroke="#1c3e64" stroke-width="0.9"/>
<circle cx="232.47" cy="402.73" r="1.45" fill="#1c3e64"/>
<circle cx="240.55" cy="401.75" r="1.45" fill="#1c3e64"/>
<line x1="248.62" y1="373.64" x2="248.62" y2="378.51" stroke="#1c3e64" stroke-width="0.9"/>
<line x1="247.38" y1="373.64" x2="249.88" y2="373.64" stroke="#1c3e64" stroke-width="0.9"/>
<line x1="247.38" y1="378.51" x2="249.88" y2="378.51" stroke="#1c3e64" stroke-width="0.9"/>
<circle cx="248.62" cy="376.07" r="1.45" fill="#1c3e64"/>
<line x1="256.7" y1="361.61" x2="256.7" y2="365.51" stroke="#1c3e64" stroke-width="0.9"/>
<line x1="255.45" y1="361.61" x2="257.95" y2="361.61" stroke="#1c3e64" stroke-width="0.9"/>
<line x1="255.45" y1="365.51" x2="257.95" y2="365.51" stroke="#1c3e64" stroke-width="0.9"/>
<circle cx="256.7" cy="363.56" r="1.45" fill="#1c3e64"/>
<line x1="263.64" y1="361.61" x2="263.64" y2="365.51" stroke="#1c3e64" stroke-width="0.9"/>
<line x1="262.39" y1="361.61" x2="264.89" y2="361.61" stroke="#1c3e64" stroke-width="0.9"/>
<line x1="262.39" y1="365.51" x2="264.89" y2="365.51" stroke="#1c3e64" stroke-width="0.9"/>
<circle cx="263.64" cy="363.56" r="1.45" fill="#1c3e64"/>
<line x1="271.24" y1="363.4" x2="271.24" y2="368.27" stroke="#1c3e64" stroke-width="0.9"/>
<line x1="269.99" y1="363.4" x2="272.49" y2="363.4" stroke="#1c3e64" stroke-width="0.9"/>
<line x1="269.99" y1="368.27" x2="272.49" y2="368.27" stroke="#1c3e64" stroke-width="0.9"/>
<circle cx="271.24" cy="365.84" r="1.45" fill="#1c3e64"/>
<line x1="279.31" y1="357.23" x2="279.31" y2="362.1" stroke="#1c3e64" stroke-width="0.9"/>
<line x1="278.06" y1="357.23" x2="280.56" y2="357.23" stroke="#1c3e64" stroke-width="0.9"/>
<line x1="278.06" y1="362.1" x2="280.56" y2="362.1" stroke="#1c3e64" stroke-width="0.9"/>
<circle cx="279.31" cy="359.66" r="1.45" fill="#1c3e64"/>
<line x1="286.74" y1="359.5" x2="286.74" y2="364.38" stroke="#1c3e64" stroke-width="0.9"/>
<line x1="285.49" y1="359.5" x2="287.99" y2="359.5" stroke="#1c3e64" stroke-width="0.9"/>
<line x1="285.49" y1="364.38" x2="287.99" y2="364.38" stroke="#1c3e64" stroke-width="0.9"/>
<circle cx="286.74" cy="361.94" r="1.45" fill="#1c3e64"/>
<line x1="294.81" y1="401.43" x2="294.81" y2="403.05" stroke="#1c3e64" stroke-width="0.9"/>
<line x1="293.56" y1="401.43" x2="296.06" y2="401.43" stroke="#1c3e64" stroke-width="0.9"/>
<line x1="293.56" y1="403.05" x2="296.06" y2="403.05" stroke="#1c3e64" stroke-width="0.9"/>
<circle cx="294.81" cy="402.24" r="1.45" fill="#1c3e64"/>
<circle cx="302.4" cy="405.32" r="1.45" fill="#1c3e64"/>
<circle cx="310" cy="405.32" r="1.45" fill="#1c3e64"/>
<line x1="294.1" y1="352.7" x2="301.3" y2="352.7" stroke="#1c3e64" stroke-width="1.1"/>
<circle cx="297.7" cy="352.7" r="1.35" fill="#1c3e64"/>
<text x="304.7" y="354.5" font-size="5.2" textLength="22.8" lengthAdjust="spacingAndGlyphs">untreated</text>
<line x1="294.1" y1="362.6" x2="301.3" y2="362.6" stroke="#b51335" stroke-width="1.1"/>
<rect x="296.35" y="361.25" width="2.7" height="2.7" fill="#b51335"/>
<text x="305.4" y="364.4" font-size="5.2" textLength="24.3" lengthAdjust="spacingAndGlyphs">+MK2206</text>
<line x1="392.5" y1="358.96" x2="392.5" y2="363.92" stroke="#114b8c" stroke-width="0.9"/>
<line x1="391.1" y1="358.96" x2="393.9" y2="358.96" stroke="#114b8c" stroke-width="0.9"/>
<rect x="390" y="363.92" width="5" height="47.28" fill="#114b8c"/>
<line x1="401.7" y1="407.54" x2="401.7" y2="408.59" stroke="#c90624" stroke-width="0.9"/>
<line x1="400.3" y1="407.54" x2="403.1" y2="407.54" stroke="#c90624" stroke-width="0.9"/>
<rect x="399.2" y="408.59" width="5" height="2.61" fill="#c90624"/>
<line x1="411.05" y1="378.94" x2="411.05" y2="380.25" stroke="#114b8c" stroke-width="0.9"/>
<line x1="409.65" y1="378.94" x2="412.45" y2="378.94" stroke="#114b8c" stroke-width="0.9"/>
<rect x="408.2" y="380.25" width="5.7" height="30.95" fill="url(#hb)"/>
<rect x="408.45" y="380.5" width="5.2" height="30.45" fill="none" stroke="#1b3f6e" stroke-width="0.5"/>
<line x1="420.45" y1="389.26" x2="420.45" y2="390.3" stroke="#c90624" stroke-width="0.9"/>
<line x1="419.05" y1="389.26" x2="421.85" y2="389.26" stroke="#c90624" stroke-width="0.9"/>
<rect x="417.6" y="390.3" width="5.7" height="20.9" fill="url(#hr)"/>
<rect x="417.85" y="390.55" width="5.2" height="20.4" fill="none" stroke="#b0122a" stroke-width="0.5"/>
<line x1="384.1" y1="342.6" x2="384.1" y2="411.8" stroke="#1a1a1a" stroke-width="1.4"/>
<line x1="383.4" y1="411.2" x2="428.8" y2="411.2" stroke="#1a1a1a" stroke-width="1.4"/>
<line x1="380.5" y1="411.2" x2="384.1" y2="411.2" stroke="#1a1a1a" stroke-width="1.1"/>
<text x="378.6" y="413.7" font-size="7.4" text-anchor="end" textLength="4.35" lengthAdjust="spacingAndGlyphs" stroke="#231f20" stroke-width="0.1">0</text>
<line x1="380.5" y1="398.14" x2="384.1" y2="398.14" stroke="#1a1a1a" stroke-width="1.1"/>
<text x="378.6" y="400.64" font-size="7.4" text-anchor="end" textLength="8.7" lengthAdjust="spacingAndGlyphs" stroke="#231f20" stroke-width="0.1">10</text>
<line x1="380.5" y1="385.08" x2="384.1" y2="385.08" stroke="#1a1a1a" stroke-width="1.1"/>
<text x="378.6" y="387.58" font-size="7.4" text-anchor="end" textLength="8.7" lengthAdjust="spacingAndGlyphs" stroke="#231f20" stroke-width="0.1">20</text>
<line x1="380.5" y1="372.02" x2="384.1" y2="372.02" stroke="#1a1a1a" stroke-width="1.1"/>
<text x="378.6" y="374.52" font-size="7.4" text-anchor="end" textLength="8.7" lengthAdjust="spacingAndGlyphs" stroke="#231f20" stroke-width="0.1">30</text>
<line x1="380.5" y1="358.96" x2="384.1" y2="358.96" stroke="#1a1a1a" stroke-width="1.1"/>
<text x="378.6" y="361.46" font-size="7.4" text-anchor="end" textLength="8.7" lengthAdjust="spacingAndGlyphs" stroke="#231f20" stroke-width="0.1">40</text>
<line x1="380.5" y1="345.9" x2="384.1" y2="345.9" stroke="#1a1a1a" stroke-width="1.1"/>
<text x="378.6" y="348.4" font-size="7.4" text-anchor="end" textLength="8.7" lengthAdjust="spacingAndGlyphs" stroke="#231f20" stroke-width="0.1">50</text>
<text transform="translate(364.2 376.85) rotate(-90)" font-size="9.8" text-anchor="middle" textLength="54" lengthAdjust="spacingAndGlyphs" stroke="#231f20" stroke-width="0.3">ECAR (mpH/min)</text>
<text x="406.7" y="334.2" font-size="9.3" text-anchor="middle" textLength="63.4" lengthAdjust="spacingAndGlyphs" stroke="#231f20" stroke-width="0.1">Basal glycolysis</text>
<line x1="391.2" y1="348" x2="411.2" y2="348" stroke="#555" stroke-width="0.9"/>
<path d="M399.82 342.5L399.82 345.1M398.7 343.15L400.95 344.45M398.7 344.45L400.95 343.15" stroke="#2a2a2a" stroke-width="0.95"/>
<path d="M402.57 342.5L402.57 345.1M401.45 343.15L403.7 344.45M401.45 344.45L403.7 343.15" stroke="#2a2a2a" stroke-width="0.95"/>
<line x1="391.2" y1="357.4" x2="401.8" y2="357.4" stroke="#555" stroke-width="0.9"/>
<path d="M392.38 352.1L392.38 354.7M391.25 352.75L393.5 354.05M391.25 354.05L393.5 352.75" stroke="#2a2a2a" stroke-width="0.95"/>
<path d="M395.12 352.1L395.12 354.7M394 352.75L396.25 354.05M394 354.05L396.25 352.75" stroke="#2a2a2a" stroke-width="0.95"/>
<path d="M397.88 352.1L397.88 354.7M396.75 352.75L399 354.05M396.75 354.05L399 352.75" stroke="#2a2a2a" stroke-width="0.95"/>
<path d="M400.62 352.1L400.62 354.7M399.5 352.75L401.75 354.05M399.5 354.05L401.75 352.75" stroke="#2a2a2a" stroke-width="0.95"/>
<line x1="411.2" y1="377.2" x2="421.8" y2="377.2" stroke="#555" stroke-width="0.9"/>
<path d="M412.38 370.2L412.38 372.8M411.25 370.85L413.5 372.15M411.25 372.15L413.5 370.85" stroke="#2a2a2a" stroke-width="0.95"/>
<path d="M415.12 370.2L415.12 372.8M414 370.85L416.25 372.15M414 372.15L416.25 370.85" stroke="#2a2a2a" stroke-width="0.95"/>
<path d="M417.88 370.2L417.88 372.8M416.75 370.85L419 372.15M416.75 372.15L419 370.85" stroke="#2a2a2a" stroke-width="0.95"/>
<path d="M420.62 370.2L420.62 372.8M419.5 370.85L421.75 372.15M419.5 372.15L421.75 370.85" stroke="#2a2a2a" stroke-width="0.95"/>
<rect x="446.5" y="349" width="6" height="2.6" fill="#114b8c"/>
<text x="456" y="352.5" font-size="6.3" >Control</text>
<rect x="446.5" y="359.6" width="6" height="2.6" fill="#c90624"/>
<text x="456" y="363.1" font-size="6.3" textLength="51.7" lengthAdjust="spacingAndGlyphs">Control + MK2206</text>
<path d="M447.1 372.9 l1.9 -2.6 M450.5 372.9 l1.9 -2.6" stroke="#1b3f6e" stroke-width="1.5"/>
<text x="456" y="373.8" font-size="6.3" textLength="31.6" lengthAdjust="spacingAndGlyphs">FOXO3 KO</text>
<path d="M447.1 383.2 l1.9 -2.6 M450.5 383.2 l1.9 -2.6" stroke="#b0122a" stroke-width="1.5"/>
<text x="456" y="384.1" font-size="6.3" textLength="63.2" lengthAdjust="spacingAndGlyphs">FOXO3 KO + MK2206</text>
<line x1="90.1" y1="472.7" x2="90.1" y2="537.8" stroke="#9a9a9a" stroke-width="1.25"/>
<text x="90.1" y="471" font-size="7.2" text-anchor="middle">A</text>
<line x1="113.6" y1="472.7" x2="113.6" y2="537.8" stroke="#9a9a9a" stroke-width="1.25"/>
<text x="113.6" y="471" font-size="7.2" text-anchor="middle">B</text>
<line x1="136.8" y1="472.7" x2="136.8" y2="537.8" stroke="#9a9a9a" stroke-width="1.25"/>
<text x="136.8" y="471" font-size="7.2" text-anchor="middle">C</text>
<line x1="69.3" y1="469.7" x2="69.3" y2="538.4" stroke="#1a1a1a" stroke-width="1.4"/>
<line x1="68.6" y1="537.8" x2="169.1" y2="537.8" stroke="#1a1a1a" stroke-width="1.4"/>
<line x1="65.7" y1="537.8" x2="69.3" y2="537.8" stroke="#1a1a1a" stroke-width="1.1"/>
<text x="63.1" y="540.3" font-size="7.4" text-anchor="end" textLength="4.35" lengthAdjust="spacingAndGlyphs" stroke="#231f20" stroke-width="0.1">0</text>
<line x1="65.7" y1="516.2" x2="69.3" y2="516.2" stroke="#1a1a1a" stroke-width="1.1"/>
<text x="63.1" y="518.7" font-size="7.4" text-anchor="end" textLength="8.7" lengthAdjust="spacingAndGlyphs" stroke="#231f20" stroke-width="0.1">50</text>
<line x1="65.7" y1="494.6" x2="69.3" y2="494.6" stroke="#1a1a1a" stroke-width="1.1"/>
<text x="63.1" y="497.1" font-size="7.4" text-anchor="end" textLength="13.05" lengthAdjust="spacingAndGlyphs" stroke="#231f20" stroke-width="0.1">100</text>
<line x1="65.7" y1="473" x2="69.3" y2="473" stroke="#1a1a1a" stroke-width="1.1"/>
<text x="63.1" y="475.5" font-size="7.4" text-anchor="end" textLength="13.05" lengthAdjust="spacingAndGlyphs" stroke="#231f20" stroke-width="0.1">150</text>
<line x1="69.3" y1="537.8" x2="69.3" y2="540.8" stroke="#1a1a1a" stroke-width="1.1"/>
<text x="69.3" y="550.5" font-size="7.4" text-anchor="middle" textLength="4.35" lengthAdjust="spacingAndGlyphs" stroke="#231f20" stroke-width="0.1">0</text>
<line x1="93.5" y1="537.8" x2="93.5" y2="540.8" stroke="#1a1a1a" stroke-width="1.1"/>
<text x="93.5" y="550.5" font-size="7.4" text-anchor="middle" textLength="8.7" lengthAdjust="spacingAndGlyphs" stroke="#231f20" stroke-width="0.1">20</text>
<line x1="117.7" y1="537.8" x2="117.7" y2="540.8" stroke="#1a1a1a" stroke-width="1.1"/>
<text x="117.7" y="550.5" font-size="7.4" text-anchor="middle" textLength="8.7" lengthAdjust="spacingAndGlyphs" stroke="#231f20" stroke-width="0.1">40</text>
<line x1="141.9" y1="537.8" x2="141.9" y2="540.8" stroke="#1a1a1a" stroke-width="1.1"/>
<text x="141.9" y="550.5" font-size="7.4" text-anchor="middle" textLength="8.7" lengthAdjust="spacingAndGlyphs" stroke="#231f20" stroke-width="0.1">60</text>
<line x1="166.1" y1="537.8" x2="166.1" y2="540.8" stroke="#1a1a1a" stroke-width="1.1"/>
<text x="166.1" y="550.5" font-size="7.4" text-anchor="middle" textLength="8.7" lengthAdjust="spacingAndGlyphs" stroke="#231f20" stroke-width="0.1">80</text>
<text x="119.7" y="563.5" font-size="9.3" text-anchor="middle" textLength="46.8" lengthAdjust="spacingAndGlyphs" stroke="#231f20" stroke-width="0.3">Time (minutes)</text>
<text transform="translate(44.2 503.8) rotate(-90)" font-size="9.6" text-anchor="middle" textLength="51.2" lengthAdjust="spacingAndGlyphs" stroke="#231f20" stroke-width="0.4">OCR (pmol/min)</text>
<text x="119.8" y="459.4" font-size="9.6" text-anchor="middle" textLength="29.8" lengthAdjust="spacingAndGlyphs" stroke="#231f20" stroke-width="0.1">Control</text>
<polyline points="69.3,527.52 77.77,527.95 86.24,529.38 94.1,531.32 101.97,531.58 109.83,532.31 117.7,528.21 126.17,529.89 134.03,530.89 141.9,534.39 149.76,535.81 157.63,535.81" fill="none" stroke="#b51335" stroke-width="1.0" stroke-linejoin="round"/>
<rect x="67.8" y="526.02" width="3" height="3" fill="#b51335"/>
<rect x="76.27" y="526.45" width="3" height="3" fill="#b51335"/>
<rect x="84.74" y="527.88" width="3" height="3" fill="#b51335"/>
<rect x="92.6" y="529.82" width="3" height="3" fill="#b51335"/>
<rect x="100.47" y="530.08" width="3" height="3" fill="#b51335"/>
<rect x="108.33" y="530.81" width="3" height="3" fill="#b51335"/>
<rect x="116.2" y="526.71" width="3" height="3" fill="#b51335"/>
<rect x="124.67" y="528.39" width="3" height="3" fill="#b51335"/>
<rect x="132.53" y="529.39" width="3" height="3" fill="#b51335"/>
<rect x="140.4" y="532.89" width="3" height="3" fill="#b51335"/>
<rect x="148.26" y="534.31" width="3" height="3" fill="#b51335"/>
<rect x="156.13" y="534.31" width="3" height="3" fill="#b51335"/>
<polyline points="69.3,513.31 77.77,514.99 86.24,514.99 94.1,529.2 101.97,529.2 109.83,529.2 117.7,503.24 126.17,513.61 134.03,518.79 141.9,534.08 149.76,534.39 157.63,534.39" fill="none" stroke="#1c3e64" stroke-width="1.0" stroke-linejoin="round"/>
<circle cx="69.3" cy="513.31" r="1.45" fill="#1c3e64"/>
<circle cx="77.77" cy="514.99" r="1.45" fill="#1c3e64"/>
<circle cx="86.24" cy="514.99" r="1.45" fill="#1c3e64"/>
<circle cx="94.1" cy="529.2" r="1.45" fill="#1c3e64"/>
<circle cx="101.97" cy="529.2" r="1.45" fill="#1c3e64"/>
<circle cx="109.83" cy="529.2" r="1.45" fill="#1c3e64"/>
<circle cx="117.7" cy="503.24" r="1.45" fill="#1c3e64"/>
<circle cx="126.17" cy="513.61" r="1.45" fill="#1c3e64"/>
<circle cx="134.03" cy="518.79" r="1.45" fill="#1c3e64"/>
<circle cx="141.9" cy="534.08" r="1.45" fill="#1c3e64"/>
<circle cx="149.76" cy="534.39" r="1.45" fill="#1c3e64"/>
<circle cx="157.63" cy="534.39" r="1.45" fill="#1c3e64"/>
<line x1="244.9" y1="472.4" x2="244.9" y2="537.6" stroke="#9a9a9a" stroke-width="1.25"/>
<text x="244.9" y="470.7" font-size="7.2" text-anchor="middle">A</text>
<line x1="268.8" y1="472.4" x2="268.8" y2="537.6" stroke="#9a9a9a" stroke-width="1.25"/>
<text x="268.8" y="470.7" font-size="7.2" text-anchor="middle">B</text>
<line x1="291.9" y1="472.4" x2="291.9" y2="537.6" stroke="#9a9a9a" stroke-width="1.25"/>
<text x="291.9" y="470.7" font-size="7.2" text-anchor="middle">C</text>
<line x1="224.4" y1="469.4" x2="224.4" y2="538.2" stroke="#1a1a1a" stroke-width="1.4"/>
<line x1="223.7" y1="537.6" x2="324.2" y2="537.6" stroke="#1a1a1a" stroke-width="1.4"/>
<line x1="220.8" y1="537.6" x2="224.4" y2="537.6" stroke="#1a1a1a" stroke-width="1.1"/>
<text x="218.2" y="540.1" font-size="7.4" text-anchor="end" textLength="4.35" lengthAdjust="spacingAndGlyphs" stroke="#231f20" stroke-width="0.1">0</text>
<line x1="220.8" y1="515.97" x2="224.4" y2="515.97" stroke="#1a1a1a" stroke-width="1.1"/>
<text x="218.2" y="518.47" font-size="7.4" text-anchor="end" textLength="8.7" lengthAdjust="spacingAndGlyphs" stroke="#231f20" stroke-width="0.1">50</text>
<line x1="220.8" y1="494.33" x2="224.4" y2="494.33" stroke="#1a1a1a" stroke-width="1.1"/>
<text x="218.2" y="496.83" font-size="7.4" text-anchor="end" textLength="13.05" lengthAdjust="spacingAndGlyphs" stroke="#231f20" stroke-width="0.1">100</text>
<line x1="220.8" y1="472.7" x2="224.4" y2="472.7" stroke="#1a1a1a" stroke-width="1.1"/>
<text x="218.2" y="475.2" font-size="7.4" text-anchor="end" textLength="13.05" lengthAdjust="spacingAndGlyphs" stroke="#231f20" stroke-width="0.1">150</text>
<line x1="224.4" y1="537.6" x2="224.4" y2="540.6" stroke="#1a1a1a" stroke-width="1.1"/>
<text x="224.4" y="550.3" font-size="7.4" text-anchor="middle" textLength="4.35" lengthAdjust="spacingAndGlyphs" stroke="#231f20" stroke-width="0.1">0</text>
<line x1="248.6" y1="537.6" x2="248.6" y2="540.6" stroke="#1a1a1a" stroke-width="1.1"/>
<text x="248.6" y="550.3" font-size="7.4" text-anchor="middle" textLength="8.7" lengthAdjust="spacingAndGlyphs" stroke="#231f20" stroke-width="0.1">20</text>
<line x1="272.8" y1="537.6" x2="272.8" y2="540.6" stroke="#1a1a1a" stroke-width="1.1"/>
<text x="272.8" y="550.3" font-size="7.4" text-anchor="middle" textLength="8.7" lengthAdjust="spacingAndGlyphs" stroke="#231f20" stroke-width="0.1">40</text>
<line x1="297" y1="537.6" x2="297" y2="540.6" stroke="#1a1a1a" stroke-width="1.1"/>
<text x="297" y="550.3" font-size="7.4" text-anchor="middle" textLength="8.7" lengthAdjust="spacingAndGlyphs" stroke="#231f20" stroke-width="0.1">60</text>
<line x1="321.2" y1="537.6" x2="321.2" y2="540.6" stroke="#1a1a1a" stroke-width="1.1"/>
<text x="321.2" y="550.3" font-size="7.4" text-anchor="middle" textLength="8.7" lengthAdjust="spacingAndGlyphs" stroke="#231f20" stroke-width="0.1">80</text>
<text x="274.8" y="563.3" font-size="9.3" text-anchor="middle" textLength="46.8" lengthAdjust="spacingAndGlyphs" stroke="#231f20" stroke-width="0.3">Time (minutes)</text>
<text transform="translate(199.3 503.55) rotate(-90)" font-size="9.6" text-anchor="middle" textLength="51.2" lengthAdjust="spacingAndGlyphs" stroke="#231f20" stroke-width="0.4">OCR (pmol/min)</text>
<text x="274.9" y="459.4" font-size="9.6" text-anchor="middle" textLength="46.7" lengthAdjust="spacingAndGlyphs" stroke="#231f20" stroke-width="0.1">FOXO1 KO</text>
<polyline points="224.4,517.09 232.87,518.61 241.34,518.61 249.21,527.69 257.07,527.3 264.94,526.22 272.8,507.01 281.27,518.61 289.13,521.81 297,534.48 304.87,534.48 312.73,534.48" fill="none" stroke="#b51335" stroke-width="1.0" stroke-linejoin="round"/>
<rect x="222.9" y="515.59" width="3" height="3" fill="#b51335"/>
<rect x="231.37" y="517.11" width="3" height="3" fill="#b51335"/>
<rect x="239.84" y="517.11" width="3" height="3" fill="#b51335"/>
<rect x="247.71" y="526.19" width="3" height="3" fill="#b51335"/>
<rect x="255.57" y="525.8" width="3" height="3" fill="#b51335"/>
<rect x="263.44" y="524.72" width="3" height="3" fill="#b51335"/>
<rect x="271.3" y="505.51" width="3" height="3" fill="#b51335"/>
<rect x="279.77" y="517.11" width="3" height="3" fill="#b51335"/>
<rect x="287.63" y="520.31" width="3" height="3" fill="#b51335"/>
<rect x="295.5" y="532.98" width="3" height="3" fill="#b51335"/>
<rect x="303.37" y="532.98" width="3" height="3" fill="#b51335"/>
<rect x="311.23" y="532.98" width="3" height="3" fill="#b51335"/>
<polyline points="224.4,501.69 232.87,501.99 241.34,500.52 249.21,524.23 257.07,522.8 264.94,521.12 272.8,490.01 281.27,504.8 289.13,511.12 297,533.4 304.87,533.4 312.73,533.4" fill="none" stroke="#1c3e64" stroke-width="1.0" stroke-linejoin="round"/>
<circle cx="224.4" cy="501.69" r="1.45" fill="#1c3e64"/>
<circle cx="232.87" cy="501.99" r="1.45" fill="#1c3e64"/>
<circle cx="241.34" cy="500.52" r="1.45" fill="#1c3e64"/>
<circle cx="249.21" cy="524.23" r="1.45" fill="#1c3e64"/>
<circle cx="257.07" cy="522.8" r="1.45" fill="#1c3e64"/>
<circle cx="264.94" cy="521.12" r="1.45" fill="#1c3e64"/>
<circle cx="272.8" cy="490.01" r="1.45" fill="#1c3e64"/>
<circle cx="281.27" cy="504.8" r="1.45" fill="#1c3e64"/>
<circle cx="289.13" cy="511.12" r="1.45" fill="#1c3e64"/>
<circle cx="297" cy="533.4" r="1.45" fill="#1c3e64"/>
<circle cx="304.87" cy="533.4" r="1.45" fill="#1c3e64"/>
<circle cx="312.73" cy="533.4" r="1.45" fill="#1c3e64"/>
<line x1="295.6" y1="476.6" x2="302.8" y2="476.6" stroke="#1c3e64" stroke-width="1.1"/>
<circle cx="299.2" cy="476.6" r="1.35" fill="#1c3e64"/>
<text x="306.2" y="478.4" font-size="5.2" textLength="22.8" lengthAdjust="spacingAndGlyphs">untreated</text>
<line x1="295.6" y1="486.5" x2="302.8" y2="486.5" stroke="#b51335" stroke-width="1.1"/>
<rect x="297.85" y="485.15" width="2.7" height="2.7" fill="#b51335"/>
<text x="306.9" y="488.3" font-size="5.2" textLength="24.3" lengthAdjust="spacingAndGlyphs">+MK2206</text>
<line x1="392.5" y1="508.39" x2="392.5" y2="509.36" stroke="#114b8c" stroke-width="0.9"/>
<line x1="391.1" y1="508.39" x2="393.9" y2="508.39" stroke="#114b8c" stroke-width="0.9"/>
<rect x="390" y="509.36" width="5" height="28.04" fill="#114b8c"/>
<line x1="401.7" y1="526.17" x2="401.7" y2="527.79" stroke="#c90624" stroke-width="0.9"/>
<line x1="400.3" y1="526.17" x2="403.1" y2="526.17" stroke="#c90624" stroke-width="0.9"/>
<rect x="399.2" y="527.79" width="5" height="9.61" fill="#c90624"/>
<line x1="411.05" y1="487.43" x2="411.05" y2="489.05" stroke="#114b8c" stroke-width="0.9"/>
<line x1="409.65" y1="487.43" x2="412.45" y2="487.43" stroke="#114b8c" stroke-width="0.9"/>
<rect x="408.2" y="489.05" width="5.7" height="48.35" fill="url(#hb)"/>
<rect x="408.45" y="489.3" width="5.2" height="47.85" fill="none" stroke="#1b3f6e" stroke-width="0.5"/>
<line x1="420.45" y1="511.76" x2="420.45" y2="513.39" stroke="#c90624" stroke-width="0.9"/>
<line x1="419.05" y1="511.76" x2="421.85" y2="511.76" stroke="#c90624" stroke-width="0.9"/>
<rect x="417.6" y="513.39" width="5.7" height="24.01" fill="url(#hr)"/>
<rect x="417.85" y="513.64" width="5.2" height="23.51" fill="none" stroke="#b0122a" stroke-width="0.5"/>
<line x1="384.1" y1="469.2" x2="384.1" y2="538" stroke="#1a1a1a" stroke-width="1.4"/>
<line x1="383.4" y1="537.4" x2="428.8" y2="537.4" stroke="#1a1a1a" stroke-width="1.4"/>
<line x1="380.5" y1="537.4" x2="384.1" y2="537.4" stroke="#1a1a1a" stroke-width="1.1"/>
<text x="378.6" y="539.9" font-size="7.4" text-anchor="end" textLength="4.35" lengthAdjust="spacingAndGlyphs" stroke="#231f20" stroke-width="0.1">0</text>
<line x1="380.5" y1="524.42" x2="384.1" y2="524.42" stroke="#1a1a1a" stroke-width="1.1"/>
<text x="378.6" y="526.92" font-size="7.4" text-anchor="end" textLength="8.7" lengthAdjust="spacingAndGlyphs" stroke="#231f20" stroke-width="0.1">20</text>
<line x1="380.5" y1="511.44" x2="384.1" y2="511.44" stroke="#1a1a1a" stroke-width="1.1"/>
<text x="378.6" y="513.94" font-size="7.4" text-anchor="end" textLength="8.7" lengthAdjust="spacingAndGlyphs" stroke="#231f20" stroke-width="0.1">40</text>
<line x1="380.5" y1="498.46" x2="384.1" y2="498.46" stroke="#1a1a1a" stroke-width="1.1"/>
<text x="378.6" y="500.96" font-size="7.4" text-anchor="end" textLength="8.7" lengthAdjust="spacingAndGlyphs" stroke="#231f20" stroke-width="0.1">60</text>
<line x1="380.5" y1="485.48" x2="384.1" y2="485.48" stroke="#1a1a1a" stroke-width="1.1"/>
<text x="378.6" y="487.98" font-size="7.4" text-anchor="end" textLength="8.7" lengthAdjust="spacingAndGlyphs" stroke="#231f20" stroke-width="0.1">80</text>
<line x1="380.5" y1="472.5" x2="384.1" y2="472.5" stroke="#1a1a1a" stroke-width="1.1"/>
<text x="378.6" y="475" font-size="7.4" text-anchor="end" textLength="13.05" lengthAdjust="spacingAndGlyphs" stroke="#231f20" stroke-width="0.1">100</text>
<text transform="translate(360.2 503.25) rotate(-90)" font-size="9.8" text-anchor="middle" textLength="51" lengthAdjust="spacingAndGlyphs" stroke="#231f20" stroke-width="0.3">OCR (pmol/min)</text>
<text x="406.7" y="459.4" font-size="9.3" text-anchor="middle" textLength="67.4" lengthAdjust="spacingAndGlyphs" stroke="#231f20" stroke-width="0.1">Basal respiration</text>
<line x1="391.2" y1="476.4" x2="411.2" y2="476.4" stroke="#555" stroke-width="0.9"/>
<path d="M397.07 471.1L397.07 473.7M395.95 471.75L398.2 473.05M395.95 473.05L398.2 471.75" stroke="#2a2a2a" stroke-width="0.95"/>
<path d="M399.82 471.1L399.82 473.7M398.7 471.75L400.95 473.05M398.7 473.05L400.95 471.75" stroke="#2a2a2a" stroke-width="0.95"/>
<path d="M402.57 471.1L402.57 473.7M401.45 471.75L403.7 473.05M401.45 473.05L403.7 471.75" stroke="#2a2a2a" stroke-width="0.95"/>
<path d="M405.32 471.1L405.32 473.7M404.2 471.75L406.45 473.05M404.2 473.05L406.45 471.75" stroke="#2a2a2a" stroke-width="0.95"/>
<line x1="411.2" y1="484.8" x2="421.8" y2="484.8" stroke="#555" stroke-width="0.9"/>
<path d="M412.38 479.7L412.38 482.3M411.25 480.35L413.5 481.65M411.25 481.65L413.5 480.35" stroke="#2a2a2a" stroke-width="0.95"/>
<path d="M415.12 479.7L415.12 482.3M414 480.35L416.25 481.65M414 481.65L416.25 480.35" stroke="#2a2a2a" stroke-width="0.95"/>
<path d="M417.88 479.7L417.88 482.3M416.75 480.35L419 481.65M416.75 481.65L419 480.35" stroke="#2a2a2a" stroke-width="0.95"/>
<path d="M420.62 479.7L420.62 482.3M419.5 480.35L421.75 481.65M419.5 481.65L421.75 480.35" stroke="#2a2a2a" stroke-width="0.95"/>
<line x1="391.2" y1="505.1" x2="401.8" y2="505.1" stroke="#555" stroke-width="0.9"/>
<path d="M392.38 499.7L392.38 502.3M391.25 500.35L393.5 501.65M391.25 501.65L393.5 500.35" stroke="#2a2a2a" stroke-width="0.95"/>
<path d="M395.12 499.7L395.12 502.3M394 500.35L396.25 501.65M394 501.65L396.25 500.35" stroke="#2a2a2a" stroke-width="0.95"/>
<path d="M397.88 499.7L397.88 502.3M396.75 500.35L399 501.65M396.75 501.65L399 500.35" stroke="#2a2a2a" stroke-width="0.95"/>
<path d="M400.62 499.7L400.62 502.3M399.5 500.35L401.75 501.65M399.5 501.65L401.75 500.35" stroke="#2a2a2a" stroke-width="0.95"/>
<rect x="444" y="475.1" width="6" height="2.6" fill="#114b8c"/>
<text x="453.5" y="478.6" font-size="6.3" >Control</text>
<rect x="444" y="485.4" width="6" height="2.6" fill="#c90624"/>
<text x="453.5" y="488.9" font-size="6.3" textLength="51.7" lengthAdjust="spacingAndGlyphs">Control + MK2206</text>
<path d="M444.6 498.6 l1.9 -2.6 M448 498.6 l1.9 -2.6" stroke="#1b3f6e" stroke-width="1.5"/>
<text x="453.5" y="499.5" font-size="6.3" textLength="31.6" lengthAdjust="spacingAndGlyphs">FOXO1 KO</text>
<path d="M444.6 508.8 l1.9 -2.6 M448 508.8 l1.9 -2.6" stroke="#b0122a" stroke-width="1.5"/>
<text x="453.5" y="509.7" font-size="6.3" textLength="63.2" lengthAdjust="spacingAndGlyphs">FOXO1 KO + MK2206</text>
<line x1="88.5" y1="596" x2="88.5" y2="660.9" stroke="#9a9a9a" stroke-width="1.25"/>
<text x="88.5" y="594.3" font-size="7.2" text-anchor="middle">A</text>
<line x1="110.3" y1="596" x2="110.3" y2="660.9" stroke="#9a9a9a" stroke-width="1.25"/>
<text x="110.3" y="594.3" font-size="7.2" text-anchor="middle">B</text>
<line x1="131.9" y1="596" x2="131.9" y2="660.9" stroke="#9a9a9a" stroke-width="1.25"/>
<text x="131.9" y="594.3" font-size="7.2" text-anchor="middle">C</text>
<line x1="69.3" y1="593" x2="69.3" y2="661.5" stroke="#1a1a1a" stroke-width="1.4"/>
<line x1="68.6" y1="660.9" x2="169.2" y2="660.9" stroke="#1a1a1a" stroke-width="1.4"/>
<line x1="65.7" y1="660.9" x2="69.3" y2="660.9" stroke="#1a1a1a" stroke-width="1.1"/>
<text x="63.1" y="663.4" font-size="7.4" text-anchor="end" textLength="4.35" lengthAdjust="spacingAndGlyphs" stroke="#231f20" stroke-width="0.1">0</text>
<line x1="65.7" y1="639.37" x2="69.3" y2="639.37" stroke="#1a1a1a" stroke-width="1.1"/>
<text x="63.1" y="641.87" font-size="7.4" text-anchor="end" textLength="8.7" lengthAdjust="spacingAndGlyphs" stroke="#231f20" stroke-width="0.1">50</text>
<line x1="65.7" y1="617.83" x2="69.3" y2="617.83" stroke="#1a1a1a" stroke-width="1.1"/>
<text x="63.1" y="620.33" font-size="7.4" text-anchor="end" textLength="13.05" lengthAdjust="spacingAndGlyphs" stroke="#231f20" stroke-width="0.1">100</text>
<line x1="65.7" y1="596.3" x2="69.3" y2="596.3" stroke="#1a1a1a" stroke-width="1.1"/>
<text x="63.1" y="598.8" font-size="7.4" text-anchor="end" textLength="13.05" lengthAdjust="spacingAndGlyphs" stroke="#231f20" stroke-width="0.1">150</text>
<line x1="69.3" y1="660.9" x2="69.3" y2="663.9" stroke="#1a1a1a" stroke-width="1.1"/>
<text x="69.3" y="673.6" font-size="7.4" text-anchor="middle" textLength="4.35" lengthAdjust="spacingAndGlyphs" stroke="#231f20" stroke-width="0.1">0</text>
<line x1="101.6" y1="660.9" x2="101.6" y2="663.9" stroke="#1a1a1a" stroke-width="1.1"/>
<text x="101.6" y="673.6" font-size="7.4" text-anchor="middle" textLength="8.7" lengthAdjust="spacingAndGlyphs" stroke="#231f20" stroke-width="0.1">20</text>
<line x1="133.9" y1="660.9" x2="133.9" y2="663.9" stroke="#1a1a1a" stroke-width="1.1"/>
<text x="133.9" y="673.6" font-size="7.4" text-anchor="middle" textLength="8.7" lengthAdjust="spacingAndGlyphs" stroke="#231f20" stroke-width="0.1">40</text>
<line x1="166.2" y1="660.9" x2="166.2" y2="663.9" stroke="#1a1a1a" stroke-width="1.1"/>
<text x="166.2" y="673.6" font-size="7.4" text-anchor="middle" textLength="8.7" lengthAdjust="spacingAndGlyphs" stroke="#231f20" stroke-width="0.1">60</text>
<text x="119.7" y="686.6" font-size="9.3" text-anchor="middle" textLength="46.8" lengthAdjust="spacingAndGlyphs" stroke="#231f20" stroke-width="0.3">Time (minutes)</text>
<text transform="translate(44.2 627) rotate(-90)" font-size="9.6" text-anchor="middle" textLength="51.2" lengthAdjust="spacingAndGlyphs" stroke="#231f20" stroke-width="0.4">OCR (pmol/min)</text>
<text x="119.8" y="583.7" font-size="9.6" text-anchor="middle" textLength="29.8" lengthAdjust="spacingAndGlyphs" stroke="#231f20" stroke-width="0.1">Control</text>
<polyline points="70.11,650.18 77.38,649.57 84.64,651.77 91.91,650.39 99.02,650.87 106.28,648.5 113.55,649.1 120.66,650.87 127.92,651.17 135.19,650.18 142.3,653.71 149.57,655.78" fill="none" stroke="#b51335" stroke-width="1.0" stroke-linejoin="round"/>
<rect x="68.61" y="648.68" width="3" height="3" fill="#b51335"/>
<rect x="75.88" y="648.07" width="3" height="3" fill="#b51335"/>
<rect x="83.14" y="650.27" width="3" height="3" fill="#b51335"/>
<rect x="90.41" y="648.89" width="3" height="3" fill="#b51335"/>
<rect x="97.52" y="649.37" width="3" height="3" fill="#b51335"/>
<rect x="104.78" y="647" width="3" height="3" fill="#b51335"/>
<rect x="112.05" y="647.6" width="3" height="3" fill="#b51335"/>
<rect x="119.16" y="649.37" width="3" height="3" fill="#b51335"/>
<rect x="126.42" y="649.67" width="3" height="3" fill="#b51335"/>
<rect x="133.69" y="648.68" width="3" height="3" fill="#b51335"/>
<rect x="140.8" y="652.21" width="3" height="3" fill="#b51335"/>
<rect x="148.07" y="654.28" width="3" height="3" fill="#b51335"/>
<polyline points="70.11,630.75 77.38,630.15 84.64,633.47 91.91,640.96 99.02,644.79 106.28,640.96 113.55,613.23 120.66,618.65 127.92,619.94 135.19,642.86 142.3,644.19 149.57,649.1" fill="none" stroke="#1c3e64" stroke-width="1.0" stroke-linejoin="round"/>
<line x1="70.11" y1="628.6" x2="70.11" y2="632.91" stroke="#1c3e64" stroke-width="0.9"/>
<line x1="68.86" y1="628.6" x2="71.36" y2="628.6" stroke="#1c3e64" stroke-width="0.9"/>
<line x1="68.86" y1="632.91" x2="71.36" y2="632.91" stroke="#1c3e64" stroke-width="0.9"/>
<circle cx="70.11" cy="630.75" r="1.45" fill="#1c3e64"/>
<line x1="77.38" y1="628.86" x2="77.38" y2="631.44" stroke="#1c3e64" stroke-width="0.9"/>
<line x1="76.12" y1="628.86" x2="78.62" y2="628.86" stroke="#1c3e64" stroke-width="0.9"/>
<line x1="76.12" y1="631.44" x2="78.62" y2="631.44" stroke="#1c3e64" stroke-width="0.9"/>
<circle cx="77.38" cy="630.15" r="1.45" fill="#1c3e64"/>
<line x1="84.64" y1="632.17" x2="84.64" y2="634.76" stroke="#1c3e64" stroke-width="0.9"/>
<line x1="83.39" y1="632.17" x2="85.89" y2="632.17" stroke="#1c3e64" stroke-width="0.9"/>
<line x1="83.39" y1="634.76" x2="85.89" y2="634.76" stroke="#1c3e64" stroke-width="0.9"/>
<circle cx="84.64" cy="633.47" r="1.45" fill="#1c3e64"/>
<line x1="91.91" y1="638.38" x2="91.91" y2="643.54" stroke="#1c3e64" stroke-width="0.9"/>
<line x1="90.66" y1="638.38" x2="93.16" y2="638.38" stroke="#1c3e64" stroke-width="0.9"/>
<line x1="90.66" y1="643.54" x2="93.16" y2="643.54" stroke="#1c3e64" stroke-width="0.9"/>
<circle cx="91.91" cy="640.96" r="1.45" fill="#1c3e64"/>
<line x1="99.02" y1="643.07" x2="99.02" y2="646.52" stroke="#1c3e64" stroke-width="0.9"/>
<line x1="97.77" y1="643.07" x2="100.27" y2="643.07" stroke="#1c3e64" stroke-width="0.9"/>
<line x1="97.77" y1="646.52" x2="100.27" y2="646.52" stroke="#1c3e64" stroke-width="0.9"/>
<circle cx="99.02" cy="644.79" r="1.45" fill="#1c3e64"/>
<line x1="106.28" y1="639.24" x2="106.28" y2="642.68" stroke="#1c3e64" stroke-width="0.9"/>
<line x1="105.03" y1="639.24" x2="107.53" y2="639.24" stroke="#1c3e64" stroke-width="0.9"/>
<line x1="105.03" y1="642.68" x2="107.53" y2="642.68" stroke="#1c3e64" stroke-width="0.9"/>
<circle cx="106.28" cy="640.96" r="1.45" fill="#1c3e64"/>
<line x1="113.55" y1="608.92" x2="113.55" y2="617.53" stroke="#1c3e64" stroke-width="0.9"/>
<line x1="112.3" y1="608.92" x2="114.8" y2="608.92" stroke="#1c3e64" stroke-width="0.9"/>
<line x1="112.3" y1="617.53" x2="114.8" y2="617.53" stroke="#1c3e64" stroke-width="0.9"/>
<circle cx="113.55" cy="613.23" r="1.45" fill="#1c3e64"/>
<line x1="120.66" y1="615.21" x2="120.66" y2="622.1" stroke="#1c3e64" stroke-width="0.9"/>
<line x1="119.41" y1="615.21" x2="121.91" y2="615.21" stroke="#1c3e64" stroke-width="0.9"/>
<line x1="119.41" y1="622.1" x2="121.91" y2="622.1" stroke="#1c3e64" stroke-width="0.9"/>
<circle cx="120.66" cy="618.65" r="1.45" fill="#1c3e64"/>
<line x1="127.92" y1="616.5" x2="127.92" y2="623.39" stroke="#1c3e64" stroke-width="0.9"/>
<line x1="126.67" y1="616.5" x2="129.17" y2="616.5" stroke="#1c3e64" stroke-width="0.9"/>
<line x1="126.67" y1="623.39" x2="129.17" y2="623.39" stroke="#1c3e64" stroke-width="0.9"/>
<circle cx="127.92" cy="619.94" r="1.45" fill="#1c3e64"/>
<line x1="135.19" y1="640.7" x2="135.19" y2="645.01" stroke="#1c3e64" stroke-width="0.9"/>
<line x1="133.94" y1="640.7" x2="136.44" y2="640.7" stroke="#1c3e64" stroke-width="0.9"/>
<line x1="133.94" y1="645.01" x2="136.44" y2="645.01" stroke="#1c3e64" stroke-width="0.9"/>
<circle cx="135.19" cy="642.86" r="1.45" fill="#1c3e64"/>
<line x1="142.3" y1="642.04" x2="142.3" y2="646.34" stroke="#1c3e64" stroke-width="0.9"/>
<line x1="141.05" y1="642.04" x2="143.55" y2="642.04" stroke="#1c3e64" stroke-width="0.9"/>
<line x1="141.05" y1="646.34" x2="143.55" y2="646.34" stroke="#1c3e64" stroke-width="0.9"/>
<circle cx="142.3" cy="644.19" r="1.45" fill="#1c3e64"/>
<line x1="149.57" y1="647.38" x2="149.57" y2="650.82" stroke="#1c3e64" stroke-width="0.9"/>
<line x1="148.32" y1="647.38" x2="150.82" y2="647.38" stroke="#1c3e64" stroke-width="0.9"/>
<line x1="148.32" y1="650.82" x2="150.82" y2="650.82" stroke="#1c3e64" stroke-width="0.9"/>
<circle cx="149.57" cy="649.1" r="1.45" fill="#1c3e64"/>
<line x1="243.4" y1="595.3" x2="243.4" y2="661.2" stroke="#9a9a9a" stroke-width="1.25"/>
<text x="243.4" y="593.6" font-size="7.2" text-anchor="middle">A</text>
<line x1="265" y1="595.3" x2="265" y2="661.2" stroke="#9a9a9a" stroke-width="1.25"/>
<text x="265" y="593.6" font-size="7.2" text-anchor="middle">B</text>
<line x1="287.2" y1="595.3" x2="287.2" y2="661.2" stroke="#9a9a9a" stroke-width="1.25"/>
<text x="287.2" y="593.6" font-size="7.2" text-anchor="middle">C</text>
<line x1="224.4" y1="592.3" x2="224.4" y2="661.8" stroke="#1a1a1a" stroke-width="1.4"/>
<line x1="223.7" y1="661.2" x2="324.3" y2="661.2" stroke="#1a1a1a" stroke-width="1.4"/>
<line x1="220.8" y1="661.2" x2="224.4" y2="661.2" stroke="#1a1a1a" stroke-width="1.1"/>
<text x="218.2" y="663.7" font-size="7.4" text-anchor="end" textLength="4.35" lengthAdjust="spacingAndGlyphs" stroke="#231f20" stroke-width="0.1">0</text>
<line x1="220.8" y1="639.33" x2="224.4" y2="639.33" stroke="#1a1a1a" stroke-width="1.1"/>
<text x="218.2" y="641.83" font-size="7.4" text-anchor="end" textLength="8.7" lengthAdjust="spacingAndGlyphs" stroke="#231f20" stroke-width="0.1">50</text>
<line x1="220.8" y1="617.47" x2="224.4" y2="617.47" stroke="#1a1a1a" stroke-width="1.1"/>
<text x="218.2" y="619.97" font-size="7.4" text-anchor="end" textLength="13.05" lengthAdjust="spacingAndGlyphs" stroke="#231f20" stroke-width="0.1">100</text>
<line x1="220.8" y1="595.6" x2="224.4" y2="595.6" stroke="#1a1a1a" stroke-width="1.1"/>
<text x="218.2" y="598.1" font-size="7.4" text-anchor="end" textLength="13.05" lengthAdjust="spacingAndGlyphs" stroke="#231f20" stroke-width="0.1">150</text>
<line x1="224.4" y1="661.2" x2="224.4" y2="664.2" stroke="#1a1a1a" stroke-width="1.1"/>
<text x="224.4" y="673.9" font-size="7.4" text-anchor="middle" textLength="4.35" lengthAdjust="spacingAndGlyphs" stroke="#231f20" stroke-width="0.1">0</text>
<line x1="256.7" y1="661.2" x2="256.7" y2="664.2" stroke="#1a1a1a" stroke-width="1.1"/>
<text x="256.7" y="673.9" font-size="7.4" text-anchor="middle" textLength="8.7" lengthAdjust="spacingAndGlyphs" stroke="#231f20" stroke-width="0.1">20</text>
<line x1="289" y1="661.2" x2="289" y2="664.2" stroke="#1a1a1a" stroke-width="1.1"/>
<text x="289" y="673.9" font-size="7.4" text-anchor="middle" textLength="8.7" lengthAdjust="spacingAndGlyphs" stroke="#231f20" stroke-width="0.1">40</text>
<line x1="321.3" y1="661.2" x2="321.3" y2="664.2" stroke="#1a1a1a" stroke-width="1.1"/>
<text x="321.3" y="673.9" font-size="7.4" text-anchor="middle" textLength="8.7" lengthAdjust="spacingAndGlyphs" stroke="#231f20" stroke-width="0.1">60</text>
<text x="274.8" y="686.9" font-size="9.3" text-anchor="middle" textLength="46.8" lengthAdjust="spacingAndGlyphs" stroke="#231f20" stroke-width="0.3">Time (minutes)</text>
<text transform="translate(199.3 626.8) rotate(-90)" font-size="9.6" text-anchor="middle" textLength="51.2" lengthAdjust="spacingAndGlyphs" stroke="#231f20" stroke-width="0.4">OCR (pmol/min)</text>
<text x="274.9" y="583.7" font-size="9.6" text-anchor="middle" textLength="46.7" lengthAdjust="spacingAndGlyphs" stroke="#231f20" stroke-width="0.1">FOXO3 KO</text>
<polyline points="225.21,644.19 232.47,641.69 239.74,644.89 247.01,646.29 254.12,647.38 261.38,645.28 268.65,632.6 275.76,636.8 283.02,639.6 290.29,647.38 297.4,647.82 304.67,650.62" fill="none" stroke="#b51335" stroke-width="1.0" stroke-linejoin="round"/>
<line x1="225.21" y1="642.44" x2="225.21" y2="645.94" stroke="#b51335" stroke-width="0.9"/>
<line x1="223.96" y1="642.44" x2="226.46" y2="642.44" stroke="#b51335" stroke-width="0.9"/>
<line x1="223.96" y1="645.94" x2="226.46" y2="645.94" stroke="#b51335" stroke-width="0.9"/>
<rect x="223.71" y="642.69" width="3" height="3" fill="#b51335"/>
<line x1="232.47" y1="640.38" x2="232.47" y2="643.01" stroke="#b51335" stroke-width="0.9"/>
<line x1="231.22" y1="640.38" x2="233.72" y2="640.38" stroke="#b51335" stroke-width="0.9"/>
<line x1="231.22" y1="643.01" x2="233.72" y2="643.01" stroke="#b51335" stroke-width="0.9"/>
<rect x="230.97" y="640.19" width="3" height="3" fill="#b51335"/>
<line x1="239.74" y1="643.58" x2="239.74" y2="646.2" stroke="#b51335" stroke-width="0.9"/>
<line x1="238.49" y1="643.58" x2="240.99" y2="643.58" stroke="#b51335" stroke-width="0.9"/>
<line x1="238.49" y1="646.2" x2="240.99" y2="646.2" stroke="#b51335" stroke-width="0.9"/>
<rect x="238.24" y="643.39" width="3" height="3" fill="#b51335"/>
<line x1="247.01" y1="644.54" x2="247.01" y2="648.04" stroke="#b51335" stroke-width="0.9"/>
<line x1="245.76" y1="644.54" x2="248.26" y2="644.54" stroke="#b51335" stroke-width="0.9"/>
<line x1="245.76" y1="648.04" x2="248.26" y2="648.04" stroke="#b51335" stroke-width="0.9"/>
<rect x="245.51" y="644.79" width="3" height="3" fill="#b51335"/>
<line x1="254.12" y1="645.63" x2="254.12" y2="649.13" stroke="#b51335" stroke-width="0.9"/>
<line x1="252.87" y1="645.63" x2="255.37" y2="645.63" stroke="#b51335" stroke-width="0.9"/>
<line x1="252.87" y1="649.13" x2="255.37" y2="649.13" stroke="#b51335" stroke-width="0.9"/>
<rect x="252.62" y="645.88" width="3" height="3" fill="#b51335"/>
<line x1="261.38" y1="643.53" x2="261.38" y2="647.03" stroke="#b51335" stroke-width="0.9"/>
<line x1="260.13" y1="643.53" x2="262.63" y2="643.53" stroke="#b51335" stroke-width="0.9"/>
<line x1="260.13" y1="647.03" x2="262.63" y2="647.03" stroke="#b51335" stroke-width="0.9"/>
<rect x="259.88" y="643.78" width="3" height="3" fill="#b51335"/>
<line x1="268.65" y1="630.41" x2="268.65" y2="634.79" stroke="#b51335" stroke-width="0.9"/>
<line x1="267.4" y1="630.41" x2="269.9" y2="630.41" stroke="#b51335" stroke-width="0.9"/>
<line x1="267.4" y1="634.79" x2="269.9" y2="634.79" stroke="#b51335" stroke-width="0.9"/>
<rect x="267.15" y="631.1" width="3" height="3" fill="#b51335"/>
<line x1="275.76" y1="634.61" x2="275.76" y2="638.98" stroke="#b51335" stroke-width="0.9"/>
<line x1="274.51" y1="634.61" x2="277.01" y2="634.61" stroke="#b51335" stroke-width="0.9"/>
<line x1="274.51" y1="638.98" x2="277.01" y2="638.98" stroke="#b51335" stroke-width="0.9"/>
<rect x="274.26" y="635.3" width="3" height="3" fill="#b51335"/>
<line x1="283.02" y1="637.41" x2="283.02" y2="641.78" stroke="#b51335" stroke-width="0.9"/>
<line x1="281.77" y1="637.41" x2="284.27" y2="637.41" stroke="#b51335" stroke-width="0.9"/>
<line x1="281.77" y1="641.78" x2="284.27" y2="641.78" stroke="#b51335" stroke-width="0.9"/>
<rect x="281.52" y="638.1" width="3" height="3" fill="#b51335"/>
<line x1="290.29" y1="645.63" x2="290.29" y2="649.13" stroke="#b51335" stroke-width="0.9"/>
<line x1="289.04" y1="645.63" x2="291.54" y2="645.63" stroke="#b51335" stroke-width="0.9"/>
<line x1="289.04" y1="649.13" x2="291.54" y2="649.13" stroke="#b51335" stroke-width="0.9"/>
<rect x="288.79" y="645.88" width="3" height="3" fill="#b51335"/>
<line x1="297.4" y1="646.07" x2="297.4" y2="649.57" stroke="#b51335" stroke-width="0.9"/>
<line x1="296.15" y1="646.07" x2="298.65" y2="646.07" stroke="#b51335" stroke-width="0.9"/>
<line x1="296.15" y1="649.57" x2="298.65" y2="649.57" stroke="#b51335" stroke-width="0.9"/>
<rect x="295.9" y="646.32" width="3" height="3" fill="#b51335"/>
<line x1="304.67" y1="648.87" x2="304.67" y2="652.37" stroke="#b51335" stroke-width="0.9"/>
<line x1="303.42" y1="648.87" x2="305.92" y2="648.87" stroke="#b51335" stroke-width="0.9"/>
<line x1="303.42" y1="652.37" x2="305.92" y2="652.37" stroke="#b51335" stroke-width="0.9"/>
<rect x="303.17" y="649.12" width="3" height="3" fill="#b51335"/>
<polyline points="225.21,631.99 232.47,630.11 239.74,635 247.01,640.6 254.12,642.48 261.38,641.69 268.65,617.82 275.76,623.02 283.02,626.61 290.29,643.18 297.4,644.89 304.67,646.29" fill="none" stroke="#1c3e64" stroke-width="1.0" stroke-linejoin="round"/>
<line x1="225.21" y1="630.67" x2="225.21" y2="633.3" stroke="#1c3e64" stroke-width="0.9"/>
<line x1="223.96" y1="630.67" x2="226.46" y2="630.67" stroke="#1c3e64" stroke-width="0.9"/>
<line x1="223.96" y1="633.3" x2="226.46" y2="633.3" stroke="#1c3e64" stroke-width="0.9"/>
<circle cx="225.21" cy="631.99" r="1.45" fill="#1c3e64"/>
<line x1="232.47" y1="629.23" x2="232.47" y2="630.98" stroke="#1c3e64" stroke-width="0.9"/>
<line x1="231.22" y1="629.23" x2="233.72" y2="629.23" stroke="#1c3e64" stroke-width="0.9"/>
<line x1="231.22" y1="630.98" x2="233.72" y2="630.98" stroke="#1c3e64" stroke-width="0.9"/>
<circle cx="232.47" cy="630.11" r="1.45" fill="#1c3e64"/>
<line x1="239.74" y1="634.13" x2="239.74" y2="635.88" stroke="#1c3e64" stroke-width="0.9"/>
<line x1="238.49" y1="634.13" x2="240.99" y2="634.13" stroke="#1c3e64" stroke-width="0.9"/>
<line x1="238.49" y1="635.88" x2="240.99" y2="635.88" stroke="#1c3e64" stroke-width="0.9"/>
<circle cx="239.74" cy="635" r="1.45" fill="#1c3e64"/>
<line x1="247.01" y1="639.29" x2="247.01" y2="641.91" stroke="#1c3e64" stroke-width="0.9"/>
<line x1="245.76" y1="639.29" x2="248.26" y2="639.29" stroke="#1c3e64" stroke-width="0.9"/>
<line x1="245.76" y1="641.91" x2="248.26" y2="641.91" stroke="#1c3e64" stroke-width="0.9"/>
<circle cx="247.01" cy="640.6" r="1.45" fill="#1c3e64"/>
<line x1="254.12" y1="641.17" x2="254.12" y2="643.79" stroke="#1c3e64" stroke-width="0.9"/>
<line x1="252.87" y1="641.17" x2="255.37" y2="641.17" stroke="#1c3e64" stroke-width="0.9"/>
<line x1="252.87" y1="643.79" x2="255.37" y2="643.79" stroke="#1c3e64" stroke-width="0.9"/>
<circle cx="254.12" cy="642.48" r="1.45" fill="#1c3e64"/>
<line x1="261.38" y1="640.38" x2="261.38" y2="643.01" stroke="#1c3e64" stroke-width="0.9"/>
<line x1="260.13" y1="640.38" x2="262.63" y2="640.38" stroke="#1c3e64" stroke-width="0.9"/>
<line x1="260.13" y1="643.01" x2="262.63" y2="643.01" stroke="#1c3e64" stroke-width="0.9"/>
<circle cx="261.38" cy="641.69" r="1.45" fill="#1c3e64"/>
<line x1="268.65" y1="616.07" x2="268.65" y2="619.57" stroke="#1c3e64" stroke-width="0.9"/>
<line x1="267.4" y1="616.07" x2="269.9" y2="616.07" stroke="#1c3e64" stroke-width="0.9"/>
<line x1="267.4" y1="619.57" x2="269.9" y2="619.57" stroke="#1c3e64" stroke-width="0.9"/>
<circle cx="268.65" cy="617.82" r="1.45" fill="#1c3e64"/>
<line x1="275.76" y1="621.27" x2="275.76" y2="624.77" stroke="#1c3e64" stroke-width="0.9"/>
<line x1="274.51" y1="621.27" x2="277.01" y2="621.27" stroke="#1c3e64" stroke-width="0.9"/>
<line x1="274.51" y1="624.77" x2="277.01" y2="624.77" stroke="#1c3e64" stroke-width="0.9"/>
<circle cx="275.76" cy="623.02" r="1.45" fill="#1c3e64"/>
<line x1="283.02" y1="624.86" x2="283.02" y2="628.36" stroke="#1c3e64" stroke-width="0.9"/>
<line x1="281.77" y1="624.86" x2="284.27" y2="624.86" stroke="#1c3e64" stroke-width="0.9"/>
<line x1="281.77" y1="628.36" x2="284.27" y2="628.36" stroke="#1c3e64" stroke-width="0.9"/>
<circle cx="283.02" cy="626.61" r="1.45" fill="#1c3e64"/>
<line x1="290.29" y1="641.87" x2="290.29" y2="644.49" stroke="#1c3e64" stroke-width="0.9"/>
<line x1="289.04" y1="641.87" x2="291.54" y2="641.87" stroke="#1c3e64" stroke-width="0.9"/>
<line x1="289.04" y1="644.49" x2="291.54" y2="644.49" stroke="#1c3e64" stroke-width="0.9"/>
<circle cx="290.29" cy="643.18" r="1.45" fill="#1c3e64"/>
<line x1="297.4" y1="643.58" x2="297.4" y2="646.2" stroke="#1c3e64" stroke-width="0.9"/>
<line x1="296.15" y1="643.58" x2="298.65" y2="643.58" stroke="#1c3e64" stroke-width="0.9"/>
<line x1="296.15" y1="646.2" x2="298.65" y2="646.2" stroke="#1c3e64" stroke-width="0.9"/>
<circle cx="297.4" cy="644.89" r="1.45" fill="#1c3e64"/>
<line x1="304.67" y1="644.97" x2="304.67" y2="647.6" stroke="#1c3e64" stroke-width="0.9"/>
<line x1="303.42" y1="644.97" x2="305.92" y2="644.97" stroke="#1c3e64" stroke-width="0.9"/>
<line x1="303.42" y1="647.6" x2="305.92" y2="647.6" stroke="#1c3e64" stroke-width="0.9"/>
<circle cx="304.67" cy="646.29" r="1.45" fill="#1c3e64"/>
<line x1="291" y1="600.6" x2="298.2" y2="600.6" stroke="#1c3e64" stroke-width="1.1"/>
<circle cx="294.6" cy="600.6" r="1.35" fill="#1c3e64"/>
<text x="301.6" y="602.4" font-size="5.2" textLength="22.8" lengthAdjust="spacingAndGlyphs">untreated</text>
<line x1="291" y1="610.5" x2="298.2" y2="610.5" stroke="#b51335" stroke-width="1.1"/>
<rect x="293.25" y="609.15" width="2.7" height="2.7" fill="#b51335"/>
<text x="302.3" y="612.3" font-size="5.2" textLength="24.3" lengthAdjust="spacingAndGlyphs">+MK2206</text>
<line x1="392.5" y1="603.88" x2="392.5" y2="612.09" stroke="#114b8c" stroke-width="0.9"/>
<line x1="391.1" y1="603.88" x2="393.9" y2="603.88" stroke="#114b8c" stroke-width="0.9"/>
<rect x="390" y="612.09" width="5" height="48.51" fill="#114b8c"/>
<line x1="401.7" y1="644.3" x2="401.7" y2="648.6" stroke="#c90624" stroke-width="0.9"/>
<line x1="400.3" y1="644.3" x2="403.1" y2="644.3" stroke="#c90624" stroke-width="0.9"/>
<rect x="399.2" y="648.6" width="5" height="12" fill="#c90624"/>
<line x1="411.05" y1="618.22" x2="411.05" y2="624.35" stroke="#114b8c" stroke-width="0.9"/>
<line x1="409.65" y1="618.22" x2="412.45" y2="618.22" stroke="#114b8c" stroke-width="0.9"/>
<rect x="408.2" y="624.35" width="5.7" height="36.25" fill="url(#hb)"/>
<rect x="408.45" y="624.6" width="5.2" height="35.75" fill="none" stroke="#1b3f6e" stroke-width="0.5"/>
<line x1="420.45" y1="636.48" x2="420.45" y2="641.69" stroke="#c90624" stroke-width="0.9"/>
<line x1="419.05" y1="636.48" x2="421.85" y2="636.48" stroke="#c90624" stroke-width="0.9"/>
<rect x="417.6" y="641.69" width="5.7" height="18.91" fill="url(#hr)"/>
<rect x="417.85" y="641.94" width="5.2" height="18.41" fill="none" stroke="#b0122a" stroke-width="0.5"/>
<line x1="384.1" y1="592.1" x2="384.1" y2="661.2" stroke="#1a1a1a" stroke-width="1.4"/>
<line x1="383.4" y1="660.6" x2="428.8" y2="660.6" stroke="#1a1a1a" stroke-width="1.4"/>
<line x1="380.5" y1="660.6" x2="384.1" y2="660.6" stroke="#1a1a1a" stroke-width="1.1"/>
<text x="378.6" y="663.1" font-size="7.4" text-anchor="end" textLength="4.35" lengthAdjust="spacingAndGlyphs" stroke="#231f20" stroke-width="0.1">0</text>
<line x1="380.5" y1="647.56" x2="384.1" y2="647.56" stroke="#1a1a1a" stroke-width="1.1"/>
<text x="378.6" y="650.06" font-size="7.4" text-anchor="end" textLength="8.7" lengthAdjust="spacingAndGlyphs" stroke="#231f20" stroke-width="0.1">10</text>
<line x1="380.5" y1="634.52" x2="384.1" y2="634.52" stroke="#1a1a1a" stroke-width="1.1"/>
<text x="378.6" y="637.02" font-size="7.4" text-anchor="end" textLength="8.7" lengthAdjust="spacingAndGlyphs" stroke="#231f20" stroke-width="0.1">20</text>
<line x1="380.5" y1="621.48" x2="384.1" y2="621.48" stroke="#1a1a1a" stroke-width="1.1"/>
<text x="378.6" y="623.98" font-size="7.4" text-anchor="end" textLength="8.7" lengthAdjust="spacingAndGlyphs" stroke="#231f20" stroke-width="0.1">30</text>
<line x1="380.5" y1="608.44" x2="384.1" y2="608.44" stroke="#1a1a1a" stroke-width="1.1"/>
<text x="378.6" y="610.94" font-size="7.4" text-anchor="end" textLength="8.7" lengthAdjust="spacingAndGlyphs" stroke="#231f20" stroke-width="0.1">40</text>
<line x1="380.5" y1="595.4" x2="384.1" y2="595.4" stroke="#1a1a1a" stroke-width="1.1"/>
<text x="378.6" y="597.9" font-size="7.4" text-anchor="end" textLength="8.7" lengthAdjust="spacingAndGlyphs" stroke="#231f20" stroke-width="0.1">50</text>
<text transform="translate(364.2 626.3) rotate(-90)" font-size="9.8" text-anchor="middle" textLength="51" lengthAdjust="spacingAndGlyphs" stroke="#231f20" stroke-width="0.3">OCR (pmol/min)</text>
<text x="406.7" y="583.7" font-size="9.3" text-anchor="middle" textLength="67.4" lengthAdjust="spacingAndGlyphs" stroke="#231f20" stroke-width="0.1">Basal respiration</text>
<line x1="391.2" y1="595.9" x2="411.2" y2="595.9" stroke="#555" stroke-width="0.9"/>
<text x="401.5" y="592.2" font-size="6.7" text-anchor="middle">ns</text>
<line x1="391.2" y1="604.2" x2="401.8" y2="604.2" stroke="#555" stroke-width="0.9"/>
<path d="M396.5 598.6L396.5 601.2M395.37 599.25L397.63 600.55M395.37 600.55L397.63 599.25" stroke="#2a2a2a" stroke-width="0.95"/>
<line x1="411.2" y1="616.3" x2="421.8" y2="616.3" stroke="#555" stroke-width="0.9"/>
<text x="416.8" y="613.2" font-size="6.7" text-anchor="middle">ns</text>
<rect x="446.5" y="598.3" width="6" height="2.6" fill="#114b8c"/>
<text x="456" y="601.8" font-size="6.3" >Control</text>
<rect x="446.5" y="608.9" width="6" height="2.6" fill="#c90624"/>
<text x="456" y="612.4" font-size="6.3" textLength="51.7" lengthAdjust="spacingAndGlyphs">Control + MK2206</text>
<path d="M447.1 622.1 l1.9 -2.6 M450.5 622.1 l1.9 -2.6" stroke="#1b3f6e" stroke-width="1.5"/>
<text x="456" y="623" font-size="6.3" textLength="31.6" lengthAdjust="spacingAndGlyphs">FOXO3 KO</text>
<path d="M447.1 632.5 l1.9 -2.6 M450.5 632.5 l1.9 -2.6" stroke="#b0122a" stroke-width="1.5"/>
<text x="456" y="633.4" font-size="6.3" textLength="63.2" lengthAdjust="spacingAndGlyphs">FOXO3 KO + MK2206</text>
<line x1="90.1" y1="719" x2="90.1" y2="784.5" stroke="#9a9a9a" stroke-width="1.25"/>
<text x="90.1" y="717.3" font-size="7.2" text-anchor="middle">A</text>
<line x1="113.8" y1="719" x2="113.8" y2="784.5" stroke="#9a9a9a" stroke-width="1.25"/>
<text x="113.8" y="717.3" font-size="7.2" text-anchor="middle">B</text>
<line x1="137.1" y1="719" x2="137.1" y2="784.5" stroke="#9a9a9a" stroke-width="1.25"/>
<text x="137.1" y="717.3" font-size="7.2" text-anchor="middle">C</text>
<line x1="69.6" y1="716" x2="69.6" y2="785.1" stroke="#1a1a1a" stroke-width="1.4"/>
<line x1="68.9" y1="784.5" x2="169.4" y2="784.5" stroke="#1a1a1a" stroke-width="1.4"/>
<line x1="66" y1="780.3" x2="69.6" y2="780.3" stroke="#1a1a1a" stroke-width="1.1"/>
<text x="63.4" y="782.8" font-size="7.4" text-anchor="end" textLength="4.35" lengthAdjust="spacingAndGlyphs" stroke="#231f20" stroke-width="0.1">0</text>
<line x1="66" y1="759.97" x2="69.6" y2="759.97" stroke="#1a1a1a" stroke-width="1.1"/>
<text x="63.4" y="762.47" font-size="7.4" text-anchor="end" textLength="8.7" lengthAdjust="spacingAndGlyphs" stroke="#231f20" stroke-width="0.1">50</text>
<line x1="66" y1="739.63" x2="69.6" y2="739.63" stroke="#1a1a1a" stroke-width="1.1"/>
<text x="63.4" y="742.13" font-size="7.4" text-anchor="end" textLength="13.05" lengthAdjust="spacingAndGlyphs" stroke="#231f20" stroke-width="0.1">100</text>
<line x1="66" y1="719.3" x2="69.6" y2="719.3" stroke="#1a1a1a" stroke-width="1.1"/>
<text x="63.4" y="721.8" font-size="7.4" text-anchor="end" textLength="13.05" lengthAdjust="spacingAndGlyphs" stroke="#231f20" stroke-width="0.1">150</text>
<line x1="69.6" y1="784.5" x2="69.6" y2="787.5" stroke="#1a1a1a" stroke-width="1.1"/>
<text x="69.6" y="797.2" font-size="7.4" text-anchor="middle" textLength="4.35" lengthAdjust="spacingAndGlyphs" stroke="#231f20" stroke-width="0.1">0</text>
<line x1="93.8" y1="784.5" x2="93.8" y2="787.5" stroke="#1a1a1a" stroke-width="1.1"/>
<text x="93.8" y="797.2" font-size="7.4" text-anchor="middle" textLength="8.7" lengthAdjust="spacingAndGlyphs" stroke="#231f20" stroke-width="0.1">20</text>
<line x1="118" y1="784.5" x2="118" y2="787.5" stroke="#1a1a1a" stroke-width="1.1"/>
<text x="118" y="797.2" font-size="7.4" text-anchor="middle" textLength="8.7" lengthAdjust="spacingAndGlyphs" stroke="#231f20" stroke-width="0.1">40</text>
<line x1="142.2" y1="784.5" x2="142.2" y2="787.5" stroke="#1a1a1a" stroke-width="1.1"/>
<text x="142.2" y="797.2" font-size="7.4" text-anchor="middle" textLength="8.7" lengthAdjust="spacingAndGlyphs" stroke="#231f20" stroke-width="0.1">60</text>
<line x1="166.4" y1="784.5" x2="166.4" y2="787.5" stroke="#1a1a1a" stroke-width="1.1"/>
<text x="166.4" y="797.2" font-size="7.4" text-anchor="middle" textLength="8.7" lengthAdjust="spacingAndGlyphs" stroke="#231f20" stroke-width="0.1">80</text>
<text x="120" y="810.2" font-size="9.3" text-anchor="middle" textLength="46.8" lengthAdjust="spacingAndGlyphs" stroke="#231f20" stroke-width="0.3">Time (minutes)</text>
<text transform="translate(44.5 748.2) rotate(-90)" font-size="9.6" text-anchor="middle" textLength="51.2" lengthAdjust="spacingAndGlyphs" stroke="#231f20" stroke-width="0.4">OCR (pmol/min)</text>
<text x="120.1" y="706.4" font-size="9.6" text-anchor="middle" textLength="29.8" lengthAdjust="spacingAndGlyphs" stroke="#231f20" stroke-width="0.1">Control</text>
<polyline points="69.6,776.4 78.07,776.88 86.54,777.21 94.41,776.4 102.27,775.83 110.13,775.5 118,774.48 126.47,775.5 134.33,775.5 142.2,778.19 150.06,778.19 157.93,778.19" fill="none" stroke="#b51335" stroke-width="1.0" stroke-linejoin="round"/>
<rect x="68.1" y="774.9" width="3" height="3" fill="#b51335"/>
<rect x="76.57" y="775.38" width="3" height="3" fill="#b51335"/>
<rect x="85.04" y="775.71" width="3" height="3" fill="#b51335"/>
<rect x="92.91" y="774.9" width="3" height="3" fill="#b51335"/>
<rect x="100.77" y="774.33" width="3" height="3" fill="#b51335"/>
<rect x="108.63" y="774" width="3" height="3" fill="#b51335"/>
<rect x="116.5" y="772.98" width="3" height="3" fill="#b51335"/>
<rect x="124.97" y="774" width="3" height="3" fill="#b51335"/>
<rect x="132.83" y="774" width="3" height="3" fill="#b51335"/>
<rect x="140.7" y="776.69" width="3" height="3" fill="#b51335"/>
<rect x="148.56" y="776.69" width="3" height="3" fill="#b51335"/>
<rect x="156.43" y="776.69" width="3" height="3" fill="#b51335"/>
<polyline points="69.6,764.85 78.07,765.58 86.54,766.39 94.41,774.48 102.27,775.5 110.13,775.01 118,742.64 126.47,747.44 134.33,751.55 142.2,778.19 150.06,778.19 157.93,777.9" fill="none" stroke="#1c3e64" stroke-width="1.0" stroke-linejoin="round"/>
<circle cx="69.6" cy="764.85" r="1.45" fill="#1c3e64"/>
<circle cx="78.07" cy="765.58" r="1.45" fill="#1c3e64"/>
<circle cx="86.54" cy="766.39" r="1.45" fill="#1c3e64"/>
<circle cx="94.41" cy="774.48" r="1.45" fill="#1c3e64"/>
<circle cx="102.27" cy="775.5" r="1.45" fill="#1c3e64"/>
<circle cx="110.13" cy="775.01" r="1.45" fill="#1c3e64"/>
<line x1="118" y1="740.61" x2="118" y2="744.68" stroke="#1c3e64" stroke-width="0.9"/>
<line x1="116.75" y1="740.61" x2="119.25" y2="740.61" stroke="#1c3e64" stroke-width="0.9"/>
<line x1="116.75" y1="744.68" x2="119.25" y2="744.68" stroke="#1c3e64" stroke-width="0.9"/>
<circle cx="118" cy="742.64" r="1.45" fill="#1c3e64"/>
<line x1="126.47" y1="745.81" x2="126.47" y2="749.07" stroke="#1c3e64" stroke-width="0.9"/>
<line x1="125.22" y1="745.81" x2="127.72" y2="745.81" stroke="#1c3e64" stroke-width="0.9"/>
<line x1="125.22" y1="749.07" x2="127.72" y2="749.07" stroke="#1c3e64" stroke-width="0.9"/>
<circle cx="126.47" cy="747.44" r="1.45" fill="#1c3e64"/>
<line x1="134.33" y1="749.92" x2="134.33" y2="753.18" stroke="#1c3e64" stroke-width="0.9"/>
<line x1="133.08" y1="749.92" x2="135.58" y2="749.92" stroke="#1c3e64" stroke-width="0.9"/>
<line x1="133.08" y1="753.18" x2="135.58" y2="753.18" stroke="#1c3e64" stroke-width="0.9"/>
<circle cx="134.33" cy="751.55" r="1.45" fill="#1c3e64"/>
<circle cx="142.2" cy="778.19" r="1.45" fill="#1c3e64"/>
<circle cx="150.06" cy="778.19" r="1.45" fill="#1c3e64"/>
<circle cx="157.93" cy="777.9" r="1.45" fill="#1c3e64"/>
<line x1="244.9" y1="719.1" x2="244.9" y2="784.3" stroke="#9a9a9a" stroke-width="1.25"/>
<text x="244.9" y="717.4" font-size="7.2" text-anchor="middle">A</text>
<line x1="268.8" y1="719.1" x2="268.8" y2="784.3" stroke="#9a9a9a" stroke-width="1.25"/>
<text x="268.8" y="717.4" font-size="7.2" text-anchor="middle">B</text>
<line x1="291.9" y1="719.1" x2="291.9" y2="784.3" stroke="#9a9a9a" stroke-width="1.25"/>
<text x="291.9" y="717.4" font-size="7.2" text-anchor="middle">C</text>
<line x1="224.4" y1="716.1" x2="224.4" y2="784.9" stroke="#1a1a1a" stroke-width="1.4"/>
<line x1="223.7" y1="784.3" x2="324.2" y2="784.3" stroke="#1a1a1a" stroke-width="1.4"/>
<line x1="220.8" y1="780.1" x2="224.4" y2="780.1" stroke="#1a1a1a" stroke-width="1.1"/>
<text x="218.2" y="782.6" font-size="7.4" text-anchor="end" textLength="4.35" lengthAdjust="spacingAndGlyphs" stroke="#231f20" stroke-width="0.1">0</text>
<line x1="220.8" y1="759.87" x2="224.4" y2="759.87" stroke="#1a1a1a" stroke-width="1.1"/>
<text x="218.2" y="762.37" font-size="7.4" text-anchor="end" textLength="8.7" lengthAdjust="spacingAndGlyphs" stroke="#231f20" stroke-width="0.1">50</text>
<line x1="220.8" y1="739.63" x2="224.4" y2="739.63" stroke="#1a1a1a" stroke-width="1.1"/>
<text x="218.2" y="742.13" font-size="7.4" text-anchor="end" textLength="13.05" lengthAdjust="spacingAndGlyphs" stroke="#231f20" stroke-width="0.1">100</text>
<line x1="220.8" y1="719.4" x2="224.4" y2="719.4" stroke="#1a1a1a" stroke-width="1.1"/>
<text x="218.2" y="721.9" font-size="7.4" text-anchor="end" textLength="13.05" lengthAdjust="spacingAndGlyphs" stroke="#231f20" stroke-width="0.1">150</text>
<line x1="224.4" y1="784.3" x2="224.4" y2="787.3" stroke="#1a1a1a" stroke-width="1.1"/>
<text x="224.4" y="797" font-size="7.4" text-anchor="middle" textLength="4.35" lengthAdjust="spacingAndGlyphs" stroke="#231f20" stroke-width="0.1">0</text>
<line x1="248.6" y1="784.3" x2="248.6" y2="787.3" stroke="#1a1a1a" stroke-width="1.1"/>
<text x="248.6" y="797" font-size="7.4" text-anchor="middle" textLength="8.7" lengthAdjust="spacingAndGlyphs" stroke="#231f20" stroke-width="0.1">20</text>
<line x1="272.8" y1="784.3" x2="272.8" y2="787.3" stroke="#1a1a1a" stroke-width="1.1"/>
<text x="272.8" y="797" font-size="7.4" text-anchor="middle" textLength="8.7" lengthAdjust="spacingAndGlyphs" stroke="#231f20" stroke-width="0.1">40</text>
<line x1="297" y1="784.3" x2="297" y2="787.3" stroke="#1a1a1a" stroke-width="1.1"/>
<text x="297" y="797" font-size="7.4" text-anchor="middle" textLength="8.7" lengthAdjust="spacingAndGlyphs" stroke="#231f20" stroke-width="0.1">60</text>
<line x1="321.2" y1="784.3" x2="321.2" y2="787.3" stroke="#1a1a1a" stroke-width="1.1"/>
<text x="321.2" y="797" font-size="7.4" text-anchor="middle" textLength="8.7" lengthAdjust="spacingAndGlyphs" stroke="#231f20" stroke-width="0.1">80</text>
<text x="274.8" y="810" font-size="9.3" text-anchor="middle" textLength="46.8" lengthAdjust="spacingAndGlyphs" stroke="#231f20" stroke-width="0.3">Time (minutes)</text>
<text transform="translate(199.3 748.15) rotate(-90)" font-size="9.6" text-anchor="middle" textLength="51.2" lengthAdjust="spacingAndGlyphs" stroke="#231f20" stroke-width="0.4">OCR (pmol/min)</text>
<text x="274.9" y="706.4" font-size="9.6" text-anchor="middle" textLength="46.7" lengthAdjust="spacingAndGlyphs" stroke="#231f20" stroke-width="0.1">FOXO3 KO</text>
<polyline points="224.4,768.36 232.87,769.38 241.34,770.51 249.21,776.26 257.07,776.26 264.94,776.26 272.8,757.64 281.27,761.49 289.13,764.03 297,779.49 304.87,779.49 312.73,779.49" fill="none" stroke="#b51335" stroke-width="1.0" stroke-linejoin="round"/>
<rect x="222.9" y="766.86" width="3" height="3" fill="#b51335"/>
<rect x="231.37" y="767.88" width="3" height="3" fill="#b51335"/>
<rect x="239.84" y="769.01" width="3" height="3" fill="#b51335"/>
<rect x="247.71" y="774.76" width="3" height="3" fill="#b51335"/>
<rect x="255.57" y="774.76" width="3" height="3" fill="#b51335"/>
<rect x="263.44" y="774.76" width="3" height="3" fill="#b51335"/>
<rect x="271.3" y="756.14" width="3" height="3" fill="#b51335"/>
<rect x="279.77" y="759.99" width="3" height="3" fill="#b51335"/>
<rect x="287.63" y="762.53" width="3" height="3" fill="#b51335"/>
<rect x="295.5" y="777.99" width="3" height="3" fill="#b51335"/>
<rect x="303.37" y="777.99" width="3" height="3" fill="#b51335"/>
<rect x="311.23" y="777.99" width="3" height="3" fill="#b51335"/>
<polyline points="224.4,761.89 232.87,765.13 241.34,766.14 249.21,775.16 257.07,775.16 264.94,775.37 272.8,738.14 281.27,742.1 289.13,744.25 297,779.01 304.87,778.6 312.73,779.01" fill="none" stroke="#1c3e64" stroke-width="1.0" stroke-linejoin="round"/>
<line x1="224.4" y1="760.68" x2="224.4" y2="763.1" stroke="#1c3e64" stroke-width="0.9"/>
<line x1="223.15" y1="760.68" x2="225.65" y2="760.68" stroke="#1c3e64" stroke-width="0.9"/>
<line x1="223.15" y1="763.1" x2="225.65" y2="763.1" stroke="#1c3e64" stroke-width="0.9"/>
<circle cx="224.4" cy="761.89" r="1.45" fill="#1c3e64"/>
<line x1="232.87" y1="764.32" x2="232.87" y2="765.94" stroke="#1c3e64" stroke-width="0.9"/>
<line x1="231.62" y1="764.32" x2="234.12" y2="764.32" stroke="#1c3e64" stroke-width="0.9"/>
<line x1="231.62" y1="765.94" x2="234.12" y2="765.94" stroke="#1c3e64" stroke-width="0.9"/>
<circle cx="232.87" cy="765.13" r="1.45" fill="#1c3e64"/>
<line x1="241.34" y1="765.33" x2="241.34" y2="766.95" stroke="#1c3e64" stroke-width="0.9"/>
<line x1="240.09" y1="765.33" x2="242.59" y2="765.33" stroke="#1c3e64" stroke-width="0.9"/>
<line x1="240.09" y1="766.95" x2="242.59" y2="766.95" stroke="#1c3e64" stroke-width="0.9"/>
<circle cx="241.34" cy="766.14" r="1.45" fill="#1c3e64"/>
<line x1="249.21" y1="774.35" x2="249.21" y2="775.97" stroke="#1c3e64" stroke-width="0.9"/>
<line x1="247.96" y1="774.35" x2="250.46" y2="774.35" stroke="#1c3e64" stroke-width="0.9"/>
<line x1="247.96" y1="775.97" x2="250.46" y2="775.97" stroke="#1c3e64" stroke-width="0.9"/>
<circle cx="249.21" cy="775.16" r="1.45" fill="#1c3e64"/>
<line x1="257.07" y1="774.35" x2="257.07" y2="775.97" stroke="#1c3e64" stroke-width="0.9"/>
<line x1="255.82" y1="774.35" x2="258.32" y2="774.35" stroke="#1c3e64" stroke-width="0.9"/>
<line x1="255.82" y1="775.97" x2="258.32" y2="775.97" stroke="#1c3e64" stroke-width="0.9"/>
<circle cx="257.07" cy="775.16" r="1.45" fill="#1c3e64"/>
<line x1="264.94" y1="774.56" x2="264.94" y2="776.17" stroke="#1c3e64" stroke-width="0.9"/>
<line x1="263.69" y1="774.56" x2="266.19" y2="774.56" stroke="#1c3e64" stroke-width="0.9"/>
<line x1="263.69" y1="776.17" x2="266.19" y2="776.17" stroke="#1c3e64" stroke-width="0.9"/>
<circle cx="264.94" cy="775.37" r="1.45" fill="#1c3e64"/>
<line x1="272.8" y1="736.11" x2="272.8" y2="740.16" stroke="#1c3e64" stroke-width="0.9"/>
<line x1="271.55" y1="736.11" x2="274.05" y2="736.11" stroke="#1c3e64" stroke-width="0.9"/>
<line x1="271.55" y1="740.16" x2="274.05" y2="740.16" stroke="#1c3e64" stroke-width="0.9"/>
<circle cx="272.8" cy="738.14" r="1.45" fill="#1c3e64"/>
<line x1="281.27" y1="740.08" x2="281.27" y2="744.13" stroke="#1c3e64" stroke-width="0.9"/>
<line x1="280.02" y1="740.08" x2="282.52" y2="740.08" stroke="#1c3e64" stroke-width="0.9"/>
<line x1="280.02" y1="744.13" x2="282.52" y2="744.13" stroke="#1c3e64" stroke-width="0.9"/>
<circle cx="281.27" cy="742.1" r="1.45" fill="#1c3e64"/>
<line x1="289.13" y1="742.22" x2="289.13" y2="746.27" stroke="#1c3e64" stroke-width="0.9"/>
<line x1="287.88" y1="742.22" x2="290.38" y2="742.22" stroke="#1c3e64" stroke-width="0.9"/>
<line x1="287.88" y1="746.27" x2="290.38" y2="746.27" stroke="#1c3e64" stroke-width="0.9"/>
<circle cx="289.13" cy="744.25" r="1.45" fill="#1c3e64"/>
<line x1="297" y1="778.2" x2="297" y2="779.82" stroke="#1c3e64" stroke-width="0.9"/>
<line x1="295.75" y1="778.2" x2="298.25" y2="778.2" stroke="#1c3e64" stroke-width="0.9"/>
<line x1="295.75" y1="779.82" x2="298.25" y2="779.82" stroke="#1c3e64" stroke-width="0.9"/>
<circle cx="297" cy="779.01" r="1.45" fill="#1c3e64"/>
<line x1="304.87" y1="777.79" x2="304.87" y2="779.41" stroke="#1c3e64" stroke-width="0.9"/>
<line x1="303.62" y1="777.79" x2="306.12" y2="777.79" stroke="#1c3e64" stroke-width="0.9"/>
<line x1="303.62" y1="779.41" x2="306.12" y2="779.41" stroke="#1c3e64" stroke-width="0.9"/>
<circle cx="304.87" cy="778.6" r="1.45" fill="#1c3e64"/>
<line x1="312.73" y1="778.2" x2="312.73" y2="779.82" stroke="#1c3e64" stroke-width="0.9"/>
<line x1="311.48" y1="778.2" x2="313.98" y2="778.2" stroke="#1c3e64" stroke-width="0.9"/>
<line x1="311.48" y1="779.82" x2="313.98" y2="779.82" stroke="#1c3e64" stroke-width="0.9"/>
<circle cx="312.73" cy="779.01" r="1.45" fill="#1c3e64"/>
<line x1="295.6" y1="724.6" x2="302.8" y2="724.6" stroke="#1c3e64" stroke-width="1.1"/>
<circle cx="299.2" cy="724.6" r="1.35" fill="#1c3e64"/>
<text x="306.2" y="726.4" font-size="5.2" textLength="22.8" lengthAdjust="spacingAndGlyphs">untreated</text>
<line x1="295.6" y1="734.5" x2="302.8" y2="734.5" stroke="#b51335" stroke-width="1.1"/>
<rect x="297.85" y="733.15" width="2.7" height="2.7" fill="#b51335"/>
<text x="306.9" y="736.3" font-size="5.2" textLength="24.3" lengthAdjust="spacingAndGlyphs">+MK2206</text>
<line x1="392.5" y1="733.97" x2="392.5" y2="736.94" stroke="#114b8c" stroke-width="0.9"/>
<line x1="391.1" y1="733.97" x2="393.9" y2="733.97" stroke="#114b8c" stroke-width="0.9"/>
<rect x="390" y="736.94" width="5" height="47.36" fill="#114b8c"/>
<line x1="401.7" y1="778.03" x2="401.7" y2="780.83" stroke="#c90624" stroke-width="0.9"/>
<line x1="400.3" y1="778.03" x2="403.1" y2="778.03" stroke="#c90624" stroke-width="0.9"/>
<rect x="399.2" y="780.83" width="5" height="3.47" fill="#c90624"/>
<line x1="411.05" y1="731.5" x2="411.05" y2="735.29" stroke="#114b8c" stroke-width="0.9"/>
<line x1="409.65" y1="731.5" x2="412.45" y2="731.5" stroke="#114b8c" stroke-width="0.9"/>
<rect x="408.2" y="735.29" width="5.7" height="49" fill="url(#hb)"/>
<rect x="408.45" y="735.54" width="5.2" height="48.5" fill="none" stroke="#1b3f6e" stroke-width="0.5"/>
<line x1="420.45" y1="748.82" x2="420.45" y2="751.79" stroke="#c90624" stroke-width="0.9"/>
<line x1="419.05" y1="748.82" x2="421.85" y2="748.82" stroke="#c90624" stroke-width="0.9"/>
<rect x="417.6" y="751.79" width="5.7" height="32.5" fill="url(#hr)"/>
<rect x="417.85" y="752.04" width="5.2" height="32" fill="none" stroke="#b0122a" stroke-width="0.5"/>
<line x1="384.1" y1="715" x2="384.1" y2="784.9" stroke="#1a1a1a" stroke-width="1.4"/>
<line x1="383.4" y1="784.3" x2="428.8" y2="784.3" stroke="#1a1a1a" stroke-width="1.4"/>
<line x1="380.5" y1="784.3" x2="384.1" y2="784.3" stroke="#1a1a1a" stroke-width="1.1"/>
<text x="378.6" y="786.8" font-size="7.4" text-anchor="end" textLength="4.35" lengthAdjust="spacingAndGlyphs" stroke="#231f20" stroke-width="0.1">0</text>
<line x1="380.5" y1="767.8" x2="384.1" y2="767.8" stroke="#1a1a1a" stroke-width="1.1"/>
<text x="378.6" y="770.3" font-size="7.4" text-anchor="end" textLength="8.7" lengthAdjust="spacingAndGlyphs" stroke="#231f20" stroke-width="0.1">10</text>
<line x1="380.5" y1="751.3" x2="384.1" y2="751.3" stroke="#1a1a1a" stroke-width="1.1"/>
<text x="378.6" y="753.8" font-size="7.4" text-anchor="end" textLength="8.7" lengthAdjust="spacingAndGlyphs" stroke="#231f20" stroke-width="0.1">20</text>
<line x1="380.5" y1="734.8" x2="384.1" y2="734.8" stroke="#1a1a1a" stroke-width="1.1"/>
<text x="378.6" y="737.3" font-size="7.4" text-anchor="end" textLength="8.7" lengthAdjust="spacingAndGlyphs" stroke="#231f20" stroke-width="0.1">30</text>
<line x1="380.5" y1="718.3" x2="384.1" y2="718.3" stroke="#1a1a1a" stroke-width="1.1"/>
<text x="378.6" y="720.8" font-size="7.4" text-anchor="end" textLength="8.7" lengthAdjust="spacingAndGlyphs" stroke="#231f20" stroke-width="0.1">40</text>
<text transform="translate(364.2 749.6) rotate(-90)" font-size="9.8" text-anchor="middle" textLength="51" lengthAdjust="spacingAndGlyphs" stroke="#231f20" stroke-width="0.3">OCR (pmol/min)</text>
<text x="406.7" y="706.4" font-size="9.3" text-anchor="middle" textLength="67.4" lengthAdjust="spacingAndGlyphs" stroke="#231f20" stroke-width="0.1">Basal respiration</text>
<line x1="391.2" y1="720.7" x2="411.2" y2="720.7" stroke="#555" stroke-width="0.9"/>
<text x="401.5" y="717.1" font-size="6.7" text-anchor="middle">ns</text>
<line x1="391.2" y1="730.9" x2="401.8" y2="730.9" stroke="#555" stroke-width="0.9"/>
<path d="M392.38 725.5L392.38 728.1M391.25 726.15L393.5 727.45M391.25 727.45L393.5 726.15" stroke="#2a2a2a" stroke-width="0.95"/>
<path d="M395.12 725.5L395.12 728.1M394 726.15L396.25 727.45M394 727.45L396.25 726.15" stroke="#2a2a2a" stroke-width="0.95"/>
<path d="M397.88 725.5L397.88 728.1M396.75 726.15L399 727.45M396.75 727.45L399 726.15" stroke="#2a2a2a" stroke-width="0.95"/>
<path d="M400.62 725.5L400.62 728.1M399.5 726.15L401.75 727.45M399.5 727.45L401.75 726.15" stroke="#2a2a2a" stroke-width="0.95"/>
<line x1="411.2" y1="729.5" x2="421.8" y2="729.5" stroke="#555" stroke-width="0.9"/>
<path d="M412.38 724.4L412.38 727M411.25 725.05L413.5 726.35M411.25 726.35L413.5 725.05" stroke="#2a2a2a" stroke-width="0.95"/>
<path d="M415.12 724.4L415.12 727M414 725.05L416.25 726.35M414 726.35L416.25 725.05" stroke="#2a2a2a" stroke-width="0.95"/>
<path d="M417.88 724.4L417.88 727M416.75 725.05L419 726.35M416.75 726.35L419 725.05" stroke="#2a2a2a" stroke-width="0.95"/>
<path d="M420.62 724.4L420.62 727M419.5 725.05L421.75 726.35M419.5 726.35L421.75 725.05" stroke="#2a2a2a" stroke-width="0.95"/>
<rect x="446.5" y="721.9" width="6" height="2.6" fill="#114b8c"/>
<text x="456" y="725.4" font-size="6.3" >Control</text>
<rect x="446.5" y="732.3" width="6" height="2.6" fill="#c90624"/>
<text x="456" y="735.8" font-size="6.3" textLength="51.7" lengthAdjust="spacingAndGlyphs">Control + MK2206</text>
<path d="M447.1 745.1 l1.9 -2.6 M450.5 745.1 l1.9 -2.6" stroke="#1b3f6e" stroke-width="1.5"/>
<text x="456" y="746" font-size="6.3" textLength="31.6" lengthAdjust="spacingAndGlyphs">FOXO3 KO</text>
<path d="M447.1 755.5 l1.9 -2.6 M450.5 755.5 l1.9 -2.6" stroke="#b0122a" stroke-width="1.5"/>
<text x="456" y="756.4" font-size="6.3" textLength="63.2" lengthAdjust="spacingAndGlyphs">FOXO3 KO + MK2206</text></svg>
</body></html>
